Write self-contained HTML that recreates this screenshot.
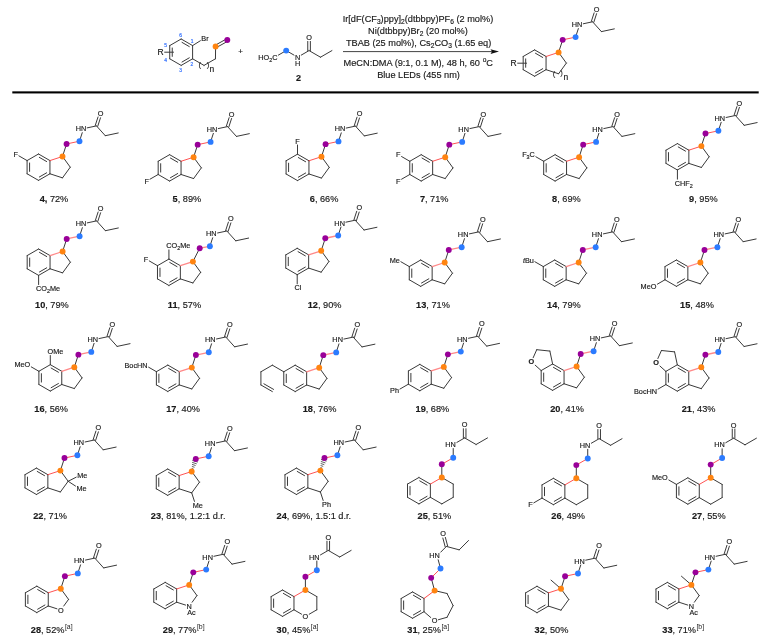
<!DOCTYPE html>
<html><head><meta charset="utf-8"><title>Scheme</title>
<style>
html,body{margin:0;padding:0;background:#fff;}
body{width:777px;height:637px;overflow:hidden;}
svg{display:block;will-change:transform;}
svg text{font-family:"Liberation Sans",sans-serif;fill:#1a1a1a;stroke:#1a1a1a;stroke-width:0.16px;white-space:pre;}
svg line{stroke-linecap:round;}
</style></head><body>
<svg width="777" height="637" viewBox="0 0 777 637">
<rect width="777" height="637" fill="#fff"/>
<line x1="49.95" y1="160.58" x2="49.95" y2="173.78" stroke="#3a3a3a" stroke-width="1"/>
<line x1="49.95" y1="173.78" x2="38.51" y2="180.38" stroke="#3a3a3a" stroke-width="1"/>
<line x1="46.62" y1="172.81" x2="39.34" y2="177.01" stroke="#3a3a3a" stroke-width="1"/>
<line x1="38.51" y1="180.38" x2="27.08" y2="173.78" stroke="#3a3a3a" stroke-width="1"/>
<line x1="27.08" y1="173.78" x2="27.08" y2="160.58" stroke="#3a3a3a" stroke-width="1"/>
<line x1="29.58" y1="171.38" x2="29.58" y2="162.98" stroke="#3a3a3a" stroke-width="1"/>
<line x1="27.08" y1="160.58" x2="38.51" y2="153.98" stroke="#3a3a3a" stroke-width="1"/>
<line x1="38.51" y1="153.98" x2="49.95" y2="160.58" stroke="#3a3a3a" stroke-width="1"/>
<line x1="39.34" y1="157.34" x2="46.62" y2="161.54" stroke="#3a3a3a" stroke-width="1"/>
<line x1="49.95" y1="160.58" x2="62.5" y2="156.5" stroke="#ff4040" stroke-width="0.9"/>
<line x1="62.5" y1="156.5" x2="70.26" y2="167.18" stroke="#3a3a3a" stroke-width="1"/>
<line x1="70.26" y1="167.18" x2="62.5" y2="177.86" stroke="#3a3a3a" stroke-width="1"/>
<line x1="62.5" y1="177.86" x2="49.95" y2="173.78" stroke="#3a3a3a" stroke-width="1"/>
<line x1="62.5" y1="156.5" x2="66.58" y2="143.95" stroke="#3a3a3a" stroke-width="1"/>
<line x1="66.58" y1="143.95" x2="79.49" y2="141.2" stroke="#ff4040" stroke-width="0.9"/>
<line x1="79.49" y1="141.2" x2="82.26" y2="132.68" stroke="#3a3a3a" stroke-width="1"/>
<line x1="87.21" y1="127.87" x2="96.48" y2="125.9" stroke="#3a3a3a" stroke-width="1"/>
<line x1="97.72" y1="126.3" x2="100.49" y2="117.78" stroke="#3a3a3a" stroke-width="1"/>
<line x1="95.24" y1="125.5" x2="98.02" y2="116.98" stroke="#3a3a3a" stroke-width="1"/>
<line x1="96.48" y1="125.9" x2="105.31" y2="135.71" stroke="#3a3a3a" stroke-width="1"/>
<line x1="105.31" y1="135.71" x2="118.23" y2="132.97" stroke="#3a3a3a" stroke-width="1"/>
<line x1="27.08" y1="160.58" x2="18.88" y2="155.84" stroke="#3a3a3a" stroke-width="1"/>
<circle cx="62.5" cy="156.5" r="2.95" fill="#ff8410"/>
<circle cx="66.58" cy="143.95" r="2.95" fill="#990099"/>
<circle cx="79.49" cy="141.2" r="2.95" fill="#2b7bff"/>
<text x="75.66" y="131.26" font-size="7.3">HN</text>
<text x="97.72" y="115.96" font-size="7.3">O</text>
<text x="13.42" y="156.59" font-size="7.3">F</text>
<text x="39.68" y="202.2" font-size="9.2"><tspan font-weight="bold">4,</tspan> 72%</text>
<line x1="181.05" y1="161.28" x2="181.05" y2="174.48" stroke="#3a3a3a" stroke-width="1"/>
<line x1="181.05" y1="174.48" x2="169.61" y2="181.08" stroke="#3a3a3a" stroke-width="1"/>
<line x1="177.72" y1="173.51" x2="170.44" y2="177.71" stroke="#3a3a3a" stroke-width="1"/>
<line x1="169.61" y1="181.08" x2="158.18" y2="174.48" stroke="#3a3a3a" stroke-width="1"/>
<line x1="158.18" y1="174.48" x2="158.18" y2="161.28" stroke="#3a3a3a" stroke-width="1"/>
<line x1="160.68" y1="172.08" x2="160.68" y2="163.68" stroke="#3a3a3a" stroke-width="1"/>
<line x1="158.18" y1="161.28" x2="169.61" y2="154.68" stroke="#3a3a3a" stroke-width="1"/>
<line x1="169.61" y1="154.68" x2="181.05" y2="161.28" stroke="#3a3a3a" stroke-width="1"/>
<line x1="170.44" y1="158.04" x2="177.72" y2="162.24" stroke="#3a3a3a" stroke-width="1"/>
<line x1="181.05" y1="161.28" x2="193.6" y2="157.2" stroke="#ff4040" stroke-width="0.9"/>
<line x1="193.6" y1="157.2" x2="201.36" y2="167.88" stroke="#3a3a3a" stroke-width="1"/>
<line x1="201.36" y1="167.88" x2="193.6" y2="178.56" stroke="#3a3a3a" stroke-width="1"/>
<line x1="193.6" y1="178.56" x2="181.05" y2="174.48" stroke="#3a3a3a" stroke-width="1"/>
<line x1="193.6" y1="157.2" x2="197.68" y2="144.65" stroke="#3a3a3a" stroke-width="1"/>
<line x1="197.68" y1="144.65" x2="210.59" y2="141.9" stroke="#ff4040" stroke-width="0.9"/>
<line x1="210.59" y1="141.9" x2="213.36" y2="133.38" stroke="#3a3a3a" stroke-width="1"/>
<line x1="218.31" y1="128.57" x2="227.58" y2="126.6" stroke="#3a3a3a" stroke-width="1"/>
<line x1="228.82" y1="127" x2="231.59" y2="118.48" stroke="#3a3a3a" stroke-width="1"/>
<line x1="226.34" y1="126.2" x2="229.12" y2="117.68" stroke="#3a3a3a" stroke-width="1"/>
<line x1="227.58" y1="126.6" x2="236.41" y2="136.41" stroke="#3a3a3a" stroke-width="1"/>
<line x1="236.41" y1="136.41" x2="249.33" y2="133.67" stroke="#3a3a3a" stroke-width="1"/>
<line x1="158.18" y1="174.48" x2="149.98" y2="179.21" stroke="#3a3a3a" stroke-width="1"/>
<circle cx="193.6" cy="157.2" r="2.95" fill="#ff8410"/>
<circle cx="197.68" cy="144.65" r="2.95" fill="#990099"/>
<circle cx="210.59" cy="141.9" r="2.95" fill="#2b7bff"/>
<text x="206.76" y="131.96" font-size="7.3">HN</text>
<text x="228.82" y="116.66" font-size="7.3">O</text>
<text x="144.52" y="183.69" font-size="7.3">F</text>
<text x="172.58" y="202.2" font-size="9.2"><tspan font-weight="bold">5</tspan>, 89%</text>
<line x1="308.95" y1="160.78" x2="308.95" y2="173.98" stroke="#3a3a3a" stroke-width="1"/>
<line x1="308.95" y1="173.98" x2="297.51" y2="180.58" stroke="#3a3a3a" stroke-width="1"/>
<line x1="305.62" y1="173.01" x2="298.34" y2="177.21" stroke="#3a3a3a" stroke-width="1"/>
<line x1="297.51" y1="180.58" x2="286.08" y2="173.98" stroke="#3a3a3a" stroke-width="1"/>
<line x1="286.08" y1="173.98" x2="286.08" y2="160.78" stroke="#3a3a3a" stroke-width="1"/>
<line x1="288.58" y1="171.58" x2="288.58" y2="163.18" stroke="#3a3a3a" stroke-width="1"/>
<line x1="286.08" y1="160.78" x2="297.51" y2="154.18" stroke="#3a3a3a" stroke-width="1"/>
<line x1="297.51" y1="154.18" x2="308.95" y2="160.78" stroke="#3a3a3a" stroke-width="1"/>
<line x1="298.34" y1="157.54" x2="305.62" y2="161.74" stroke="#3a3a3a" stroke-width="1"/>
<line x1="308.95" y1="160.78" x2="321.5" y2="156.7" stroke="#ff4040" stroke-width="0.9"/>
<line x1="321.5" y1="156.7" x2="329.26" y2="167.38" stroke="#3a3a3a" stroke-width="1"/>
<line x1="329.26" y1="167.38" x2="321.5" y2="178.06" stroke="#3a3a3a" stroke-width="1"/>
<line x1="321.5" y1="178.06" x2="308.95" y2="173.98" stroke="#3a3a3a" stroke-width="1"/>
<line x1="321.5" y1="156.7" x2="325.58" y2="144.15" stroke="#3a3a3a" stroke-width="1"/>
<line x1="325.58" y1="144.15" x2="338.49" y2="141.4" stroke="#ff4040" stroke-width="0.9"/>
<line x1="338.49" y1="141.4" x2="341.26" y2="132.88" stroke="#3a3a3a" stroke-width="1"/>
<line x1="346.21" y1="128.07" x2="355.48" y2="126.1" stroke="#3a3a3a" stroke-width="1"/>
<line x1="356.72" y1="126.5" x2="359.49" y2="117.98" stroke="#3a3a3a" stroke-width="1"/>
<line x1="354.24" y1="125.7" x2="357.02" y2="117.18" stroke="#3a3a3a" stroke-width="1"/>
<line x1="355.48" y1="126.1" x2="364.31" y2="135.91" stroke="#3a3a3a" stroke-width="1"/>
<line x1="364.31" y1="135.91" x2="377.23" y2="133.17" stroke="#3a3a3a" stroke-width="1"/>
<line x1="297.51" y1="154.18" x2="297.51" y2="145.01" stroke="#3a3a3a" stroke-width="1"/>
<circle cx="321.5" cy="156.7" r="2.95" fill="#ff8410"/>
<circle cx="325.58" cy="144.15" r="2.95" fill="#990099"/>
<circle cx="338.49" cy="141.4" r="2.95" fill="#2b7bff"/>
<text x="334.66" y="131.46" font-size="7.3">HN</text>
<text x="356.72" y="116.16" font-size="7.3">O</text>
<text x="295.28" y="143.59" font-size="7.3">F</text>
<text x="309.78" y="202.2" font-size="9.2"><tspan font-weight="bold">6</tspan>, 66%</text>
<line x1="432.65" y1="161.28" x2="432.65" y2="174.48" stroke="#3a3a3a" stroke-width="1"/>
<line x1="432.65" y1="174.48" x2="421.21" y2="181.08" stroke="#3a3a3a" stroke-width="1"/>
<line x1="429.32" y1="173.51" x2="422.04" y2="177.71" stroke="#3a3a3a" stroke-width="1"/>
<line x1="421.21" y1="181.08" x2="409.78" y2="174.48" stroke="#3a3a3a" stroke-width="1"/>
<line x1="409.78" y1="174.48" x2="409.78" y2="161.28" stroke="#3a3a3a" stroke-width="1"/>
<line x1="412.28" y1="172.08" x2="412.28" y2="163.68" stroke="#3a3a3a" stroke-width="1"/>
<line x1="409.78" y1="161.28" x2="421.21" y2="154.68" stroke="#3a3a3a" stroke-width="1"/>
<line x1="421.21" y1="154.68" x2="432.65" y2="161.28" stroke="#3a3a3a" stroke-width="1"/>
<line x1="422.04" y1="158.04" x2="429.32" y2="162.24" stroke="#3a3a3a" stroke-width="1"/>
<line x1="432.65" y1="161.28" x2="445.2" y2="157.2" stroke="#ff4040" stroke-width="0.9"/>
<line x1="445.2" y1="157.2" x2="452.96" y2="167.88" stroke="#3a3a3a" stroke-width="1"/>
<line x1="452.96" y1="167.88" x2="445.2" y2="178.56" stroke="#3a3a3a" stroke-width="1"/>
<line x1="445.2" y1="178.56" x2="432.65" y2="174.48" stroke="#3a3a3a" stroke-width="1"/>
<line x1="445.2" y1="157.2" x2="449.28" y2="144.65" stroke="#3a3a3a" stroke-width="1"/>
<line x1="449.28" y1="144.65" x2="462.19" y2="141.9" stroke="#ff4040" stroke-width="0.9"/>
<line x1="462.19" y1="141.9" x2="464.96" y2="133.38" stroke="#3a3a3a" stroke-width="1"/>
<line x1="469.91" y1="128.57" x2="479.18" y2="126.6" stroke="#3a3a3a" stroke-width="1"/>
<line x1="480.42" y1="127" x2="483.19" y2="118.48" stroke="#3a3a3a" stroke-width="1"/>
<line x1="477.94" y1="126.2" x2="480.72" y2="117.68" stroke="#3a3a3a" stroke-width="1"/>
<line x1="479.18" y1="126.6" x2="488.01" y2="136.41" stroke="#3a3a3a" stroke-width="1"/>
<line x1="488.01" y1="136.41" x2="500.93" y2="133.67" stroke="#3a3a3a" stroke-width="1"/>
<line x1="409.78" y1="161.28" x2="401.58" y2="156.54" stroke="#3a3a3a" stroke-width="1"/>
<line x1="409.78" y1="174.48" x2="401.58" y2="179.21" stroke="#3a3a3a" stroke-width="1"/>
<circle cx="445.2" cy="157.2" r="2.95" fill="#ff8410"/>
<circle cx="449.28" cy="144.65" r="2.95" fill="#990099"/>
<circle cx="462.19" cy="141.9" r="2.95" fill="#2b7bff"/>
<text x="458.36" y="131.96" font-size="7.3">HN</text>
<text x="480.42" y="116.66" font-size="7.3">O</text>
<text x="396.12" y="157.29" font-size="7.3">F</text>
<text x="396.12" y="183.69" font-size="7.3">F</text>
<text x="419.88" y="202.2" font-size="9.2"><tspan font-weight="bold">7</tspan>, 71%</text>
<line x1="566.55" y1="161.28" x2="566.55" y2="174.48" stroke="#3a3a3a" stroke-width="1"/>
<line x1="566.55" y1="174.48" x2="555.11" y2="181.08" stroke="#3a3a3a" stroke-width="1"/>
<line x1="563.22" y1="173.51" x2="555.94" y2="177.71" stroke="#3a3a3a" stroke-width="1"/>
<line x1="555.11" y1="181.08" x2="543.68" y2="174.48" stroke="#3a3a3a" stroke-width="1"/>
<line x1="543.68" y1="174.48" x2="543.68" y2="161.28" stroke="#3a3a3a" stroke-width="1"/>
<line x1="546.18" y1="172.08" x2="546.18" y2="163.68" stroke="#3a3a3a" stroke-width="1"/>
<line x1="543.68" y1="161.28" x2="555.11" y2="154.68" stroke="#3a3a3a" stroke-width="1"/>
<line x1="555.11" y1="154.68" x2="566.55" y2="161.28" stroke="#3a3a3a" stroke-width="1"/>
<line x1="555.94" y1="158.04" x2="563.22" y2="162.24" stroke="#3a3a3a" stroke-width="1"/>
<line x1="566.55" y1="161.28" x2="579.1" y2="157.2" stroke="#ff4040" stroke-width="0.9"/>
<line x1="579.1" y1="157.2" x2="586.86" y2="167.88" stroke="#3a3a3a" stroke-width="1"/>
<line x1="586.86" y1="167.88" x2="579.1" y2="178.56" stroke="#3a3a3a" stroke-width="1"/>
<line x1="579.1" y1="178.56" x2="566.55" y2="174.48" stroke="#3a3a3a" stroke-width="1"/>
<line x1="579.1" y1="157.2" x2="583.18" y2="144.65" stroke="#3a3a3a" stroke-width="1"/>
<line x1="583.18" y1="144.65" x2="596.09" y2="141.9" stroke="#ff4040" stroke-width="0.9"/>
<line x1="596.09" y1="141.9" x2="598.86" y2="133.38" stroke="#3a3a3a" stroke-width="1"/>
<line x1="603.81" y1="128.57" x2="613.08" y2="126.6" stroke="#3a3a3a" stroke-width="1"/>
<line x1="614.32" y1="127" x2="617.09" y2="118.48" stroke="#3a3a3a" stroke-width="1"/>
<line x1="611.84" y1="126.2" x2="614.62" y2="117.68" stroke="#3a3a3a" stroke-width="1"/>
<line x1="613.08" y1="126.6" x2="621.91" y2="136.41" stroke="#3a3a3a" stroke-width="1"/>
<line x1="621.91" y1="136.41" x2="634.83" y2="133.67" stroke="#3a3a3a" stroke-width="1"/>
<line x1="543.68" y1="161.28" x2="535.89" y2="156.78" stroke="#3a3a3a" stroke-width="1"/>
<circle cx="579.1" cy="157.2" r="2.95" fill="#ff8410"/>
<circle cx="583.18" cy="144.65" r="2.95" fill="#990099"/>
<circle cx="596.09" cy="141.9" r="2.95" fill="#2b7bff"/>
<text x="592.26" y="131.96" font-size="7.3">HN</text>
<text x="614.32" y="116.66" font-size="7.3">O</text>
<text x="522.15" y="157.29" font-size="7.3">F</text>
<text x="526.61" y="159.19" font-size="5.4">3</text>
<text x="529.62" y="157.29" font-size="7.3">C</text>
<text x="552.08" y="202.2" font-size="9.2"><tspan font-weight="bold">8</tspan>, 69%</text>
<line x1="688.85" y1="150.18" x2="688.85" y2="163.38" stroke="#3a3a3a" stroke-width="1"/>
<line x1="688.85" y1="163.38" x2="677.41" y2="169.98" stroke="#3a3a3a" stroke-width="1"/>
<line x1="685.52" y1="162.41" x2="678.24" y2="166.61" stroke="#3a3a3a" stroke-width="1"/>
<line x1="677.41" y1="169.98" x2="665.98" y2="163.38" stroke="#3a3a3a" stroke-width="1"/>
<line x1="665.98" y1="163.38" x2="665.98" y2="150.18" stroke="#3a3a3a" stroke-width="1"/>
<line x1="668.48" y1="160.98" x2="668.48" y2="152.58" stroke="#3a3a3a" stroke-width="1"/>
<line x1="665.98" y1="150.18" x2="677.41" y2="143.58" stroke="#3a3a3a" stroke-width="1"/>
<line x1="677.41" y1="143.58" x2="688.85" y2="150.18" stroke="#3a3a3a" stroke-width="1"/>
<line x1="678.24" y1="146.94" x2="685.52" y2="151.14" stroke="#3a3a3a" stroke-width="1"/>
<line x1="688.85" y1="150.18" x2="701.4" y2="146.1" stroke="#ff4040" stroke-width="0.9"/>
<line x1="701.4" y1="146.1" x2="709.16" y2="156.78" stroke="#3a3a3a" stroke-width="1"/>
<line x1="709.16" y1="156.78" x2="701.4" y2="167.46" stroke="#3a3a3a" stroke-width="1"/>
<line x1="701.4" y1="167.46" x2="688.85" y2="163.38" stroke="#3a3a3a" stroke-width="1"/>
<line x1="701.4" y1="146.1" x2="705.48" y2="133.55" stroke="#3a3a3a" stroke-width="1"/>
<line x1="705.48" y1="133.55" x2="718.39" y2="130.8" stroke="#ff4040" stroke-width="0.9"/>
<line x1="718.39" y1="130.8" x2="721.16" y2="122.28" stroke="#3a3a3a" stroke-width="1"/>
<line x1="726.11" y1="117.47" x2="735.38" y2="115.5" stroke="#3a3a3a" stroke-width="1"/>
<line x1="736.62" y1="115.9" x2="739.39" y2="107.38" stroke="#3a3a3a" stroke-width="1"/>
<line x1="734.14" y1="115.1" x2="736.92" y2="106.58" stroke="#3a3a3a" stroke-width="1"/>
<line x1="735.38" y1="115.5" x2="744.21" y2="125.31" stroke="#3a3a3a" stroke-width="1"/>
<line x1="744.21" y1="125.31" x2="757.13" y2="122.57" stroke="#3a3a3a" stroke-width="1"/>
<line x1="677.41" y1="169.98" x2="677.41" y2="179.15" stroke="#3a3a3a" stroke-width="1"/>
<circle cx="701.4" cy="146.1" r="2.95" fill="#ff8410"/>
<circle cx="705.48" cy="133.55" r="2.95" fill="#990099"/>
<circle cx="718.39" cy="130.8" r="2.95" fill="#2b7bff"/>
<text x="714.56" y="120.86" font-size="7.3">HN</text>
<text x="736.62" y="105.56" font-size="7.3">O</text>
<text x="674.78" y="185.79" font-size="7.3">CHF</text>
<text x="689.78" y="187.69" font-size="5.4">2</text>
<text x="689.08" y="202.2" font-size="9.2"><tspan font-weight="bold">9</tspan>, 95%</text>
<line x1="50.05" y1="255.58" x2="50.05" y2="268.78" stroke="#3a3a3a" stroke-width="1"/>
<line x1="50.05" y1="268.78" x2="38.61" y2="275.38" stroke="#3a3a3a" stroke-width="1"/>
<line x1="46.72" y1="267.81" x2="39.44" y2="272.01" stroke="#3a3a3a" stroke-width="1"/>
<line x1="38.61" y1="275.38" x2="27.18" y2="268.78" stroke="#3a3a3a" stroke-width="1"/>
<line x1="27.18" y1="268.78" x2="27.18" y2="255.58" stroke="#3a3a3a" stroke-width="1"/>
<line x1="29.68" y1="266.38" x2="29.68" y2="257.98" stroke="#3a3a3a" stroke-width="1"/>
<line x1="27.18" y1="255.58" x2="38.61" y2="248.98" stroke="#3a3a3a" stroke-width="1"/>
<line x1="38.61" y1="248.98" x2="50.05" y2="255.58" stroke="#3a3a3a" stroke-width="1"/>
<line x1="39.44" y1="252.34" x2="46.72" y2="256.54" stroke="#3a3a3a" stroke-width="1"/>
<line x1="50.05" y1="255.58" x2="62.6" y2="251.5" stroke="#ff8888" stroke-width="1.3"/>
<line x1="62.6" y1="251.5" x2="70.36" y2="262.18" stroke="#3a3a3a" stroke-width="1"/>
<line x1="70.36" y1="262.18" x2="62.6" y2="272.86" stroke="#3a3a3a" stroke-width="1"/>
<line x1="62.6" y1="272.86" x2="50.05" y2="268.78" stroke="#3a3a3a" stroke-width="1"/>
<line x1="62.6" y1="251.5" x2="66.68" y2="238.95" stroke="#3a3a3a" stroke-width="1"/>
<line x1="66.68" y1="238.95" x2="79.59" y2="236.2" stroke="#ff8888" stroke-width="1.3"/>
<line x1="79.59" y1="236.2" x2="82.36" y2="227.68" stroke="#3a3a3a" stroke-width="1"/>
<line x1="87.31" y1="222.87" x2="96.58" y2="220.9" stroke="#3a3a3a" stroke-width="1"/>
<line x1="97.82" y1="221.3" x2="100.59" y2="212.78" stroke="#3a3a3a" stroke-width="1"/>
<line x1="95.34" y1="220.5" x2="98.12" y2="211.98" stroke="#3a3a3a" stroke-width="1"/>
<line x1="96.58" y1="220.9" x2="105.41" y2="230.71" stroke="#3a3a3a" stroke-width="1"/>
<line x1="105.41" y1="230.71" x2="118.33" y2="227.97" stroke="#3a3a3a" stroke-width="1"/>
<line x1="38.61" y1="275.38" x2="38.61" y2="284.55" stroke="#3a3a3a" stroke-width="1"/>
<circle cx="62.6" cy="251.5" r="2.95" fill="#ff8410"/>
<circle cx="66.68" cy="238.95" r="2.95" fill="#990099"/>
<circle cx="79.59" cy="236.2" r="2.95" fill="#2b7bff"/>
<text x="75.76" y="226.26" font-size="7.3">HN</text>
<text x="97.82" y="210.96" font-size="7.3">O</text>
<text x="35.98" y="291.19" font-size="7.3">CO</text>
<text x="46.93" y="293.09" font-size="5.4">2</text>
<text x="49.93" y="291.19" font-size="7.3">Me</text>
<text x="35.02" y="308.1" font-size="9.2"><tspan font-weight="bold">10</tspan>, 79%</text>
<line x1="180.35" y1="265.68" x2="180.35" y2="278.88" stroke="#3a3a3a" stroke-width="1"/>
<line x1="180.35" y1="278.88" x2="168.91" y2="285.48" stroke="#3a3a3a" stroke-width="1"/>
<line x1="177.02" y1="277.91" x2="169.74" y2="282.11" stroke="#3a3a3a" stroke-width="1"/>
<line x1="168.91" y1="285.48" x2="157.48" y2="278.88" stroke="#3a3a3a" stroke-width="1"/>
<line x1="157.48" y1="278.88" x2="157.48" y2="265.68" stroke="#3a3a3a" stroke-width="1"/>
<line x1="159.98" y1="276.48" x2="159.98" y2="268.08" stroke="#3a3a3a" stroke-width="1"/>
<line x1="157.48" y1="265.68" x2="168.91" y2="259.08" stroke="#3a3a3a" stroke-width="1"/>
<line x1="168.91" y1="259.08" x2="180.35" y2="265.68" stroke="#3a3a3a" stroke-width="1"/>
<line x1="169.74" y1="262.44" x2="177.02" y2="266.64" stroke="#3a3a3a" stroke-width="1"/>
<line x1="180.35" y1="265.68" x2="192.9" y2="261.6" stroke="#ff8888" stroke-width="1.3"/>
<line x1="192.9" y1="261.6" x2="200.66" y2="272.28" stroke="#3a3a3a" stroke-width="1"/>
<line x1="200.66" y1="272.28" x2="192.9" y2="282.96" stroke="#3a3a3a" stroke-width="1"/>
<line x1="192.9" y1="282.96" x2="180.35" y2="278.88" stroke="#3a3a3a" stroke-width="1"/>
<line x1="192.9" y1="261.6" x2="199.7" y2="248.2" stroke="#3a3a3a" stroke-width="1"/>
<line x1="199.7" y1="248.2" x2="209.89" y2="246.3" stroke="#ff8888" stroke-width="1.3"/>
<line x1="209.89" y1="246.3" x2="212.66" y2="237.78" stroke="#3a3a3a" stroke-width="1"/>
<line x1="217.61" y1="232.97" x2="226.88" y2="231" stroke="#3a3a3a" stroke-width="1"/>
<line x1="228.12" y1="231.4" x2="230.89" y2="222.88" stroke="#3a3a3a" stroke-width="1"/>
<line x1="225.64" y1="230.6" x2="228.42" y2="222.08" stroke="#3a3a3a" stroke-width="1"/>
<line x1="226.88" y1="231" x2="235.71" y2="240.81" stroke="#3a3a3a" stroke-width="1"/>
<line x1="235.71" y1="240.81" x2="248.63" y2="238.07" stroke="#3a3a3a" stroke-width="1"/>
<line x1="168.91" y1="259.08" x2="168.91" y2="249.91" stroke="#3a3a3a" stroke-width="1"/>
<line x1="157.48" y1="265.68" x2="149.28" y2="260.94" stroke="#3a3a3a" stroke-width="1"/>
<circle cx="192.9" cy="261.6" r="2.95" fill="#ff8410"/>
<circle cx="199.7" cy="248.2" r="2.95" fill="#990099"/>
<circle cx="209.89" cy="246.3" r="2.95" fill="#2b7bff"/>
<text x="206.06" y="236.36" font-size="7.3">HN</text>
<text x="228.12" y="221.06" font-size="7.3">O</text>
<text x="166.28" y="248.49" font-size="7.3">CO</text>
<text x="177.23" y="250.39" font-size="5.4">2</text>
<text x="180.23" y="248.49" font-size="7.3">Me</text>
<text x="143.82" y="261.69" font-size="7.3">F</text>
<text x="167.87" y="308.1" font-size="9.2"><tspan font-weight="bold">11</tspan>, 57%</text>
<line x1="308.65" y1="254.88" x2="308.65" y2="268.08" stroke="#3a3a3a" stroke-width="1"/>
<line x1="308.65" y1="268.08" x2="297.21" y2="274.68" stroke="#3a3a3a" stroke-width="1"/>
<line x1="305.32" y1="267.11" x2="298.04" y2="271.31" stroke="#3a3a3a" stroke-width="1"/>
<line x1="297.21" y1="274.68" x2="285.78" y2="268.08" stroke="#3a3a3a" stroke-width="1"/>
<line x1="285.78" y1="268.08" x2="285.78" y2="254.88" stroke="#3a3a3a" stroke-width="1"/>
<line x1="288.28" y1="265.68" x2="288.28" y2="257.28" stroke="#3a3a3a" stroke-width="1"/>
<line x1="285.78" y1="254.88" x2="297.21" y2="248.28" stroke="#3a3a3a" stroke-width="1"/>
<line x1="297.21" y1="248.28" x2="308.65" y2="254.88" stroke="#3a3a3a" stroke-width="1"/>
<line x1="298.04" y1="251.64" x2="305.32" y2="255.84" stroke="#3a3a3a" stroke-width="1"/>
<line x1="308.65" y1="254.88" x2="321.2" y2="250.8" stroke="#ff8888" stroke-width="1.3"/>
<line x1="321.2" y1="250.8" x2="328.96" y2="261.48" stroke="#3a3a3a" stroke-width="1"/>
<line x1="328.96" y1="261.48" x2="321.2" y2="272.16" stroke="#3a3a3a" stroke-width="1"/>
<line x1="321.2" y1="272.16" x2="308.65" y2="268.08" stroke="#3a3a3a" stroke-width="1"/>
<line x1="321.2" y1="250.8" x2="325.28" y2="238.25" stroke="#3a3a3a" stroke-width="1"/>
<line x1="325.28" y1="238.25" x2="338.19" y2="235.5" stroke="#ff8888" stroke-width="1.3"/>
<line x1="338.19" y1="235.5" x2="340.96" y2="226.98" stroke="#3a3a3a" stroke-width="1"/>
<line x1="345.91" y1="222.17" x2="355.18" y2="220.2" stroke="#3a3a3a" stroke-width="1"/>
<line x1="356.42" y1="220.6" x2="359.19" y2="212.08" stroke="#3a3a3a" stroke-width="1"/>
<line x1="353.94" y1="219.8" x2="356.72" y2="211.28" stroke="#3a3a3a" stroke-width="1"/>
<line x1="355.18" y1="220.2" x2="364.01" y2="230.01" stroke="#3a3a3a" stroke-width="1"/>
<line x1="364.01" y1="230.01" x2="376.93" y2="227.27" stroke="#3a3a3a" stroke-width="1"/>
<line x1="297.21" y1="274.68" x2="297.21" y2="283.85" stroke="#3a3a3a" stroke-width="1"/>
<circle cx="321.2" cy="250.8" r="2.95" fill="#ff8410"/>
<circle cx="325.28" cy="238.25" r="2.95" fill="#990099"/>
<circle cx="338.19" cy="235.5" r="2.95" fill="#2b7bff"/>
<text x="334.36" y="225.56" font-size="7.3">HN</text>
<text x="356.42" y="210.26" font-size="7.3">O</text>
<text x="294.58" y="290.49" font-size="7.3">Cl</text>
<text x="307.72" y="308.1" font-size="9.2"><tspan font-weight="bold">12</tspan>, 90%</text>
<line x1="432.15" y1="266.58" x2="432.15" y2="279.78" stroke="#3a3a3a" stroke-width="1"/>
<line x1="432.15" y1="279.78" x2="420.71" y2="286.38" stroke="#3a3a3a" stroke-width="1"/>
<line x1="428.82" y1="278.81" x2="421.54" y2="283.01" stroke="#3a3a3a" stroke-width="1"/>
<line x1="420.71" y1="286.38" x2="409.28" y2="279.78" stroke="#3a3a3a" stroke-width="1"/>
<line x1="409.28" y1="279.78" x2="409.28" y2="266.58" stroke="#3a3a3a" stroke-width="1"/>
<line x1="411.78" y1="277.38" x2="411.78" y2="268.98" stroke="#3a3a3a" stroke-width="1"/>
<line x1="409.28" y1="266.58" x2="420.71" y2="259.98" stroke="#3a3a3a" stroke-width="1"/>
<line x1="420.71" y1="259.98" x2="432.15" y2="266.58" stroke="#3a3a3a" stroke-width="1"/>
<line x1="421.54" y1="263.34" x2="428.82" y2="267.54" stroke="#3a3a3a" stroke-width="1"/>
<line x1="432.15" y1="266.58" x2="444.7" y2="262.5" stroke="#ff8888" stroke-width="1.3"/>
<line x1="444.7" y1="262.5" x2="452.46" y2="273.18" stroke="#3a3a3a" stroke-width="1"/>
<line x1="452.46" y1="273.18" x2="444.7" y2="283.86" stroke="#3a3a3a" stroke-width="1"/>
<line x1="444.7" y1="283.86" x2="432.15" y2="279.78" stroke="#3a3a3a" stroke-width="1"/>
<line x1="444.7" y1="262.5" x2="448.78" y2="249.95" stroke="#3a3a3a" stroke-width="1"/>
<line x1="448.78" y1="249.95" x2="461.69" y2="247.2" stroke="#ff8888" stroke-width="1.3"/>
<line x1="461.69" y1="247.2" x2="464.46" y2="238.68" stroke="#3a3a3a" stroke-width="1"/>
<line x1="469.41" y1="233.87" x2="478.68" y2="231.9" stroke="#3a3a3a" stroke-width="1"/>
<line x1="479.92" y1="232.3" x2="482.69" y2="223.78" stroke="#3a3a3a" stroke-width="1"/>
<line x1="477.44" y1="231.5" x2="480.22" y2="222.98" stroke="#3a3a3a" stroke-width="1"/>
<line x1="478.68" y1="231.9" x2="487.51" y2="241.71" stroke="#3a3a3a" stroke-width="1"/>
<line x1="487.51" y1="241.71" x2="500.43" y2="238.97" stroke="#3a3a3a" stroke-width="1"/>
<line x1="409.28" y1="266.58" x2="400.88" y2="261.73" stroke="#3a3a3a" stroke-width="1"/>
<circle cx="444.7" cy="262.5" r="2.95" fill="#ff8410"/>
<circle cx="448.78" cy="249.95" r="2.95" fill="#990099"/>
<circle cx="461.69" cy="247.2" r="2.95" fill="#2b7bff"/>
<text x="457.86" y="237.26" font-size="7.3">HN</text>
<text x="479.92" y="221.96" font-size="7.3">O</text>
<text x="389.74" y="262.59" font-size="7.3">Me</text>
<text x="416.12" y="308.1" font-size="9.2"><tspan font-weight="bold">13</tspan>, 71%</text>
<line x1="566.15" y1="266.58" x2="566.15" y2="279.78" stroke="#3a3a3a" stroke-width="1"/>
<line x1="566.15" y1="279.78" x2="554.71" y2="286.38" stroke="#3a3a3a" stroke-width="1"/>
<line x1="562.82" y1="278.81" x2="555.54" y2="283.01" stroke="#3a3a3a" stroke-width="1"/>
<line x1="554.71" y1="286.38" x2="543.28" y2="279.78" stroke="#3a3a3a" stroke-width="1"/>
<line x1="543.28" y1="279.78" x2="543.28" y2="266.58" stroke="#3a3a3a" stroke-width="1"/>
<line x1="545.78" y1="277.38" x2="545.78" y2="268.98" stroke="#3a3a3a" stroke-width="1"/>
<line x1="543.28" y1="266.58" x2="554.71" y2="259.98" stroke="#3a3a3a" stroke-width="1"/>
<line x1="554.71" y1="259.98" x2="566.15" y2="266.58" stroke="#3a3a3a" stroke-width="1"/>
<line x1="555.54" y1="263.34" x2="562.82" y2="267.54" stroke="#3a3a3a" stroke-width="1"/>
<line x1="566.15" y1="266.58" x2="578.7" y2="262.5" stroke="#ff8888" stroke-width="1.3"/>
<line x1="578.7" y1="262.5" x2="586.46" y2="273.18" stroke="#3a3a3a" stroke-width="1"/>
<line x1="586.46" y1="273.18" x2="578.7" y2="283.86" stroke="#3a3a3a" stroke-width="1"/>
<line x1="578.7" y1="283.86" x2="566.15" y2="279.78" stroke="#3a3a3a" stroke-width="1"/>
<line x1="578.7" y1="262.5" x2="582.78" y2="249.95" stroke="#3a3a3a" stroke-width="1"/>
<line x1="582.78" y1="249.95" x2="595.69" y2="247.2" stroke="#ff8888" stroke-width="1.3"/>
<line x1="595.69" y1="247.2" x2="598.46" y2="238.68" stroke="#3a3a3a" stroke-width="1"/>
<line x1="603.41" y1="233.87" x2="612.68" y2="231.9" stroke="#3a3a3a" stroke-width="1"/>
<line x1="613.92" y1="232.3" x2="616.69" y2="223.78" stroke="#3a3a3a" stroke-width="1"/>
<line x1="611.44" y1="231.5" x2="614.22" y2="222.98" stroke="#3a3a3a" stroke-width="1"/>
<line x1="612.68" y1="231.9" x2="621.51" y2="241.71" stroke="#3a3a3a" stroke-width="1"/>
<line x1="621.51" y1="241.71" x2="634.43" y2="238.97" stroke="#3a3a3a" stroke-width="1"/>
<line x1="543.28" y1="266.58" x2="534.88" y2="261.73" stroke="#3a3a3a" stroke-width="1"/>
<circle cx="578.7" cy="262.5" r="2.95" fill="#ff8410"/>
<circle cx="582.78" cy="249.95" r="2.95" fill="#990099"/>
<circle cx="595.69" cy="247.2" r="2.95" fill="#2b7bff"/>
<text x="591.86" y="237.26" font-size="7.3">HN</text>
<text x="613.92" y="221.96" font-size="7.3">O</text>
<text x="522.92" y="262.59" font-size="7.3" font-style="italic">t</text>
<text x="524.95" y="262.59" font-size="7.3">Bu</text>
<text x="547.02" y="308.1" font-size="9.2"><tspan font-weight="bold">14</tspan>, 79%</text>
<line x1="687.85" y1="266.58" x2="687.85" y2="279.78" stroke="#3a3a3a" stroke-width="1"/>
<line x1="687.85" y1="279.78" x2="676.41" y2="286.38" stroke="#3a3a3a" stroke-width="1"/>
<line x1="684.52" y1="278.81" x2="677.24" y2="283.01" stroke="#3a3a3a" stroke-width="1"/>
<line x1="676.41" y1="286.38" x2="664.98" y2="279.78" stroke="#3a3a3a" stroke-width="1"/>
<line x1="664.98" y1="279.78" x2="664.98" y2="266.58" stroke="#3a3a3a" stroke-width="1"/>
<line x1="667.48" y1="277.38" x2="667.48" y2="268.98" stroke="#3a3a3a" stroke-width="1"/>
<line x1="664.98" y1="266.58" x2="676.41" y2="259.98" stroke="#3a3a3a" stroke-width="1"/>
<line x1="676.41" y1="259.98" x2="687.85" y2="266.58" stroke="#3a3a3a" stroke-width="1"/>
<line x1="677.24" y1="263.34" x2="684.52" y2="267.54" stroke="#3a3a3a" stroke-width="1"/>
<line x1="687.85" y1="266.58" x2="700.4" y2="262.5" stroke="#ff8888" stroke-width="1.3"/>
<line x1="700.4" y1="262.5" x2="708.16" y2="273.18" stroke="#3a3a3a" stroke-width="1"/>
<line x1="708.16" y1="273.18" x2="700.4" y2="283.86" stroke="#3a3a3a" stroke-width="1"/>
<line x1="700.4" y1="283.86" x2="687.85" y2="279.78" stroke="#3a3a3a" stroke-width="1"/>
<line x1="700.4" y1="262.5" x2="704.48" y2="249.95" stroke="#3a3a3a" stroke-width="1"/>
<line x1="704.48" y1="249.95" x2="717.39" y2="247.2" stroke="#ff8888" stroke-width="1.3"/>
<line x1="717.39" y1="247.2" x2="720.16" y2="238.68" stroke="#3a3a3a" stroke-width="1"/>
<line x1="725.11" y1="233.87" x2="734.38" y2="231.9" stroke="#3a3a3a" stroke-width="1"/>
<line x1="735.62" y1="232.3" x2="738.39" y2="223.78" stroke="#3a3a3a" stroke-width="1"/>
<line x1="733.14" y1="231.5" x2="735.92" y2="222.98" stroke="#3a3a3a" stroke-width="1"/>
<line x1="734.38" y1="231.9" x2="743.21" y2="241.71" stroke="#3a3a3a" stroke-width="1"/>
<line x1="743.21" y1="241.71" x2="756.13" y2="238.97" stroke="#3a3a3a" stroke-width="1"/>
<line x1="664.98" y1="279.78" x2="657.39" y2="284.16" stroke="#3a3a3a" stroke-width="1"/>
<circle cx="700.4" cy="262.5" r="2.95" fill="#ff8410"/>
<circle cx="704.48" cy="249.95" r="2.95" fill="#990099"/>
<circle cx="717.39" cy="247.2" r="2.95" fill="#2b7bff"/>
<text x="713.56" y="237.26" font-size="7.3">HN</text>
<text x="735.62" y="221.96" font-size="7.3">O</text>
<text x="640.57" y="288.99" font-size="7.3">MeO</text>
<text x="680.12" y="308.1" font-size="9.2"><tspan font-weight="bold">15</tspan>, 48%</text>
<line x1="61.75" y1="371.28" x2="61.75" y2="384.48" stroke="#3a3a3a" stroke-width="1"/>
<line x1="61.75" y1="384.48" x2="50.31" y2="391.08" stroke="#3a3a3a" stroke-width="1"/>
<line x1="58.42" y1="383.51" x2="51.14" y2="387.71" stroke="#3a3a3a" stroke-width="1"/>
<line x1="50.31" y1="391.08" x2="38.88" y2="384.48" stroke="#3a3a3a" stroke-width="1"/>
<line x1="38.88" y1="384.48" x2="38.88" y2="371.28" stroke="#3a3a3a" stroke-width="1"/>
<line x1="41.38" y1="382.08" x2="41.38" y2="373.68" stroke="#3a3a3a" stroke-width="1"/>
<line x1="38.88" y1="371.28" x2="50.31" y2="364.68" stroke="#3a3a3a" stroke-width="1"/>
<line x1="50.31" y1="364.68" x2="61.75" y2="371.28" stroke="#3a3a3a" stroke-width="1"/>
<line x1="51.14" y1="368.04" x2="58.42" y2="372.24" stroke="#3a3a3a" stroke-width="1"/>
<line x1="61.75" y1="371.28" x2="74.3" y2="367.2" stroke="#ff8888" stroke-width="1.3"/>
<line x1="74.3" y1="367.2" x2="82.06" y2="377.88" stroke="#3a3a3a" stroke-width="1"/>
<line x1="82.06" y1="377.88" x2="74.3" y2="388.56" stroke="#3a3a3a" stroke-width="1"/>
<line x1="74.3" y1="388.56" x2="61.75" y2="384.48" stroke="#3a3a3a" stroke-width="1"/>
<line x1="74.3" y1="367.2" x2="78.38" y2="354.65" stroke="#3a3a3a" stroke-width="1"/>
<line x1="78.38" y1="354.65" x2="91.29" y2="351.9" stroke="#ff8888" stroke-width="1.3"/>
<line x1="91.29" y1="351.9" x2="94.06" y2="343.38" stroke="#3a3a3a" stroke-width="1"/>
<line x1="99.01" y1="338.57" x2="108.28" y2="336.6" stroke="#3a3a3a" stroke-width="1"/>
<line x1="109.52" y1="337" x2="112.29" y2="328.48" stroke="#3a3a3a" stroke-width="1"/>
<line x1="107.04" y1="336.2" x2="109.82" y2="327.68" stroke="#3a3a3a" stroke-width="1"/>
<line x1="108.28" y1="336.6" x2="117.11" y2="346.41" stroke="#3a3a3a" stroke-width="1"/>
<line x1="117.11" y1="346.41" x2="130.03" y2="343.67" stroke="#3a3a3a" stroke-width="1"/>
<line x1="50.31" y1="364.68" x2="50.31" y2="355.51" stroke="#3a3a3a" stroke-width="1"/>
<line x1="38.88" y1="371.28" x2="31.29" y2="366.9" stroke="#3a3a3a" stroke-width="1"/>
<circle cx="74.3" cy="367.2" r="2.95" fill="#ff8410"/>
<circle cx="78.38" cy="354.65" r="2.95" fill="#990099"/>
<circle cx="91.29" cy="351.9" r="2.95" fill="#2b7bff"/>
<text x="87.46" y="341.96" font-size="7.3">HN</text>
<text x="109.52" y="326.66" font-size="7.3">O</text>
<text x="47.48" y="354.09" font-size="7.3">OMe</text>
<text x="14.47" y="367.29" font-size="7.3">MeO</text>
<text x="34.32" y="412.4" font-size="9.2"><tspan font-weight="bold">16</tspan>, 56%</text>
<line x1="179.25" y1="371.68" x2="179.25" y2="384.88" stroke="#3a3a3a" stroke-width="1"/>
<line x1="179.25" y1="384.88" x2="167.81" y2="391.48" stroke="#3a3a3a" stroke-width="1"/>
<line x1="175.92" y1="383.91" x2="168.64" y2="388.11" stroke="#3a3a3a" stroke-width="1"/>
<line x1="167.81" y1="391.48" x2="156.38" y2="384.88" stroke="#3a3a3a" stroke-width="1"/>
<line x1="156.38" y1="384.88" x2="156.38" y2="371.68" stroke="#3a3a3a" stroke-width="1"/>
<line x1="158.88" y1="382.48" x2="158.88" y2="374.08" stroke="#3a3a3a" stroke-width="1"/>
<line x1="156.38" y1="371.68" x2="167.81" y2="365.08" stroke="#3a3a3a" stroke-width="1"/>
<line x1="167.81" y1="365.08" x2="179.25" y2="371.68" stroke="#3a3a3a" stroke-width="1"/>
<line x1="168.64" y1="368.44" x2="175.92" y2="372.64" stroke="#3a3a3a" stroke-width="1"/>
<line x1="179.25" y1="371.68" x2="191.8" y2="367.6" stroke="#ff8888" stroke-width="1.3"/>
<line x1="191.8" y1="367.6" x2="199.56" y2="378.28" stroke="#3a3a3a" stroke-width="1"/>
<line x1="199.56" y1="378.28" x2="191.8" y2="388.96" stroke="#3a3a3a" stroke-width="1"/>
<line x1="191.8" y1="388.96" x2="179.25" y2="384.88" stroke="#3a3a3a" stroke-width="1"/>
<line x1="191.8" y1="367.6" x2="195.88" y2="355.05" stroke="#3a3a3a" stroke-width="1"/>
<line x1="195.88" y1="355.05" x2="208.79" y2="352.3" stroke="#ff8888" stroke-width="1.3"/>
<line x1="208.79" y1="352.3" x2="211.56" y2="343.78" stroke="#3a3a3a" stroke-width="1"/>
<line x1="216.51" y1="338.97" x2="225.78" y2="337" stroke="#3a3a3a" stroke-width="1"/>
<line x1="227.02" y1="337.4" x2="229.79" y2="328.88" stroke="#3a3a3a" stroke-width="1"/>
<line x1="224.54" y1="336.6" x2="227.32" y2="328.08" stroke="#3a3a3a" stroke-width="1"/>
<line x1="225.78" y1="337" x2="234.61" y2="346.81" stroke="#3a3a3a" stroke-width="1"/>
<line x1="234.61" y1="346.81" x2="247.53" y2="344.07" stroke="#3a3a3a" stroke-width="1"/>
<line x1="156.38" y1="371.68" x2="148.59" y2="367.18" stroke="#3a3a3a" stroke-width="1"/>
<circle cx="191.8" cy="367.6" r="2.95" fill="#ff8410"/>
<circle cx="195.88" cy="355.05" r="2.95" fill="#990099"/>
<circle cx="208.79" cy="352.3" r="2.95" fill="#2b7bff"/>
<text x="204.96" y="342.36" font-size="7.3">HN</text>
<text x="227.02" y="327.06" font-size="7.3">O</text>
<text x="124.46" y="367.69" font-size="7.3">BocHN</text>
<text x="166.22" y="412.4" font-size="9.2"><tspan font-weight="bold">17</tspan>, 40%</text>
<line x1="306.65" y1="371.78" x2="306.65" y2="384.98" stroke="#3a3a3a" stroke-width="1"/>
<line x1="306.65" y1="384.98" x2="295.21" y2="391.58" stroke="#3a3a3a" stroke-width="1"/>
<line x1="303.32" y1="384.01" x2="296.04" y2="388.21" stroke="#3a3a3a" stroke-width="1"/>
<line x1="295.21" y1="391.58" x2="283.78" y2="384.98" stroke="#3a3a3a" stroke-width="1"/>
<line x1="283.78" y1="384.98" x2="283.78" y2="371.78" stroke="#3a3a3a" stroke-width="1"/>
<line x1="286.28" y1="382.58" x2="286.28" y2="374.18" stroke="#3a3a3a" stroke-width="1"/>
<line x1="283.78" y1="371.78" x2="295.21" y2="365.18" stroke="#3a3a3a" stroke-width="1"/>
<line x1="295.21" y1="365.18" x2="306.65" y2="371.78" stroke="#3a3a3a" stroke-width="1"/>
<line x1="296.04" y1="368.54" x2="303.32" y2="372.74" stroke="#3a3a3a" stroke-width="1"/>
<line x1="306.65" y1="371.78" x2="319.2" y2="367.7" stroke="#ff8888" stroke-width="1.3"/>
<line x1="319.2" y1="367.7" x2="326.96" y2="378.38" stroke="#3a3a3a" stroke-width="1"/>
<line x1="326.96" y1="378.38" x2="319.2" y2="389.06" stroke="#3a3a3a" stroke-width="1"/>
<line x1="319.2" y1="389.06" x2="306.65" y2="384.98" stroke="#3a3a3a" stroke-width="1"/>
<line x1="319.2" y1="367.7" x2="323.28" y2="355.15" stroke="#3a3a3a" stroke-width="1"/>
<line x1="323.28" y1="355.15" x2="336.19" y2="352.4" stroke="#ff8888" stroke-width="1.3"/>
<line x1="336.19" y1="352.4" x2="338.96" y2="343.88" stroke="#3a3a3a" stroke-width="1"/>
<line x1="343.91" y1="339.07" x2="353.18" y2="337.1" stroke="#3a3a3a" stroke-width="1"/>
<line x1="354.42" y1="337.5" x2="357.19" y2="328.98" stroke="#3a3a3a" stroke-width="1"/>
<line x1="351.94" y1="336.7" x2="354.72" y2="328.18" stroke="#3a3a3a" stroke-width="1"/>
<line x1="353.18" y1="337.1" x2="362.01" y2="346.91" stroke="#3a3a3a" stroke-width="1"/>
<line x1="362.01" y1="346.91" x2="374.93" y2="344.17" stroke="#3a3a3a" stroke-width="1"/>
<line x1="283.78" y1="371.78" x2="272.35" y2="365.18" stroke="#3a3a3a" stroke-width="1"/>
<line x1="272.35" y1="365.18" x2="260.92" y2="371.78" stroke="#3a3a3a" stroke-width="1"/>
<line x1="260.92" y1="371.78" x2="260.92" y2="384.98" stroke="#3a3a3a" stroke-width="1"/>
<line x1="260.92" y1="384.98" x2="272.35" y2="391.58" stroke="#3a3a3a" stroke-width="1"/>
<line x1="263.9" y1="383.81" x2="273.6" y2="389.41" stroke="#3a3a3a" stroke-width="1"/>
<circle cx="319.2" cy="367.7" r="2.95" fill="#ff8410"/>
<circle cx="323.28" cy="355.15" r="2.95" fill="#990099"/>
<circle cx="336.19" cy="352.4" r="2.95" fill="#2b7bff"/>
<text x="332.36" y="342.46" font-size="7.3">HN</text>
<text x="354.42" y="327.16" font-size="7.3">O</text>
<text x="302.72" y="412.4" font-size="9.2"><tspan font-weight="bold">18</tspan>, 76%</text>
<line x1="431.25" y1="370.98" x2="431.25" y2="384.18" stroke="#3a3a3a" stroke-width="1"/>
<line x1="431.25" y1="384.18" x2="419.81" y2="390.78" stroke="#3a3a3a" stroke-width="1"/>
<line x1="427.92" y1="383.21" x2="420.64" y2="387.41" stroke="#3a3a3a" stroke-width="1"/>
<line x1="419.81" y1="390.78" x2="408.38" y2="384.18" stroke="#3a3a3a" stroke-width="1"/>
<line x1="408.38" y1="384.18" x2="408.38" y2="370.98" stroke="#3a3a3a" stroke-width="1"/>
<line x1="410.88" y1="381.78" x2="410.88" y2="373.38" stroke="#3a3a3a" stroke-width="1"/>
<line x1="408.38" y1="370.98" x2="419.81" y2="364.38" stroke="#3a3a3a" stroke-width="1"/>
<line x1="419.81" y1="364.38" x2="431.25" y2="370.98" stroke="#3a3a3a" stroke-width="1"/>
<line x1="420.64" y1="367.74" x2="427.92" y2="371.94" stroke="#3a3a3a" stroke-width="1"/>
<line x1="431.25" y1="370.98" x2="443.8" y2="366.9" stroke="#ff8888" stroke-width="1.3"/>
<line x1="443.8" y1="366.9" x2="451.56" y2="377.58" stroke="#3a3a3a" stroke-width="1"/>
<line x1="451.56" y1="377.58" x2="443.8" y2="388.26" stroke="#3a3a3a" stroke-width="1"/>
<line x1="443.8" y1="388.26" x2="431.25" y2="384.18" stroke="#3a3a3a" stroke-width="1"/>
<line x1="443.8" y1="366.9" x2="447.88" y2="354.35" stroke="#3a3a3a" stroke-width="1"/>
<line x1="447.88" y1="354.35" x2="460.79" y2="351.6" stroke="#ff8888" stroke-width="1.3"/>
<line x1="460.79" y1="351.6" x2="463.56" y2="343.08" stroke="#3a3a3a" stroke-width="1"/>
<line x1="468.51" y1="338.27" x2="477.78" y2="336.3" stroke="#3a3a3a" stroke-width="1"/>
<line x1="479.02" y1="336.7" x2="481.79" y2="328.18" stroke="#3a3a3a" stroke-width="1"/>
<line x1="476.54" y1="335.9" x2="479.32" y2="327.38" stroke="#3a3a3a" stroke-width="1"/>
<line x1="477.78" y1="336.3" x2="486.61" y2="346.11" stroke="#3a3a3a" stroke-width="1"/>
<line x1="486.61" y1="346.11" x2="499.53" y2="343.37" stroke="#3a3a3a" stroke-width="1"/>
<line x1="408.38" y1="384.18" x2="399.98" y2="389.03" stroke="#3a3a3a" stroke-width="1"/>
<circle cx="443.8" cy="366.9" r="2.95" fill="#ff8410"/>
<circle cx="447.88" cy="354.35" r="2.95" fill="#990099"/>
<circle cx="460.79" cy="351.6" r="2.95" fill="#2b7bff"/>
<text x="456.96" y="341.66" font-size="7.3">HN</text>
<text x="479.02" y="326.36" font-size="7.3">O</text>
<text x="390.05" y="393.39" font-size="7.3">Ph</text>
<text x="415.52" y="412.4" font-size="9.2"><tspan font-weight="bold">19</tspan>, 68%</text>
<line x1="564.05" y1="370.58" x2="564.05" y2="383.78" stroke="#3a3a3a" stroke-width="1"/>
<line x1="564.05" y1="383.78" x2="552.61" y2="390.38" stroke="#3a3a3a" stroke-width="1"/>
<line x1="560.72" y1="382.81" x2="553.44" y2="387.01" stroke="#3a3a3a" stroke-width="1"/>
<line x1="552.61" y1="390.38" x2="541.18" y2="383.78" stroke="#3a3a3a" stroke-width="1"/>
<line x1="541.18" y1="383.78" x2="541.18" y2="370.58" stroke="#3a3a3a" stroke-width="1"/>
<line x1="543.68" y1="381.38" x2="543.68" y2="372.98" stroke="#3a3a3a" stroke-width="1"/>
<line x1="541.18" y1="370.58" x2="552.61" y2="363.98" stroke="#3a3a3a" stroke-width="1"/>
<line x1="552.61" y1="363.98" x2="564.05" y2="370.58" stroke="#3a3a3a" stroke-width="1"/>
<line x1="553.44" y1="367.34" x2="560.72" y2="371.54" stroke="#3a3a3a" stroke-width="1"/>
<line x1="564.05" y1="370.58" x2="576.6" y2="366.5" stroke="#ff8888" stroke-width="1.3"/>
<line x1="576.6" y1="366.5" x2="584.36" y2="377.18" stroke="#3a3a3a" stroke-width="1"/>
<line x1="584.36" y1="377.18" x2="576.6" y2="387.86" stroke="#3a3a3a" stroke-width="1"/>
<line x1="576.6" y1="387.86" x2="564.05" y2="383.78" stroke="#3a3a3a" stroke-width="1"/>
<line x1="576.6" y1="366.5" x2="580.68" y2="353.95" stroke="#3a3a3a" stroke-width="1"/>
<line x1="580.68" y1="353.95" x2="593.59" y2="351.2" stroke="#ff8888" stroke-width="1.3"/>
<line x1="593.59" y1="351.2" x2="596.36" y2="342.68" stroke="#3a3a3a" stroke-width="1"/>
<line x1="601.31" y1="337.87" x2="610.58" y2="335.9" stroke="#3a3a3a" stroke-width="1"/>
<line x1="611.82" y1="336.3" x2="614.59" y2="327.78" stroke="#3a3a3a" stroke-width="1"/>
<line x1="609.34" y1="335.5" x2="612.12" y2="326.98" stroke="#3a3a3a" stroke-width="1"/>
<line x1="610.58" y1="335.9" x2="619.41" y2="345.71" stroke="#3a3a3a" stroke-width="1"/>
<line x1="619.41" y1="345.71" x2="632.33" y2="342.97" stroke="#3a3a3a" stroke-width="1"/>
<line x1="541.18" y1="370.58" x2="535.21" y2="365.2" stroke="#3a3a3a" stroke-width="1"/>
<line x1="533.17" y1="357.72" x2="536.74" y2="349.69" stroke="#3a3a3a" stroke-width="1"/>
<line x1="536.74" y1="349.69" x2="549.87" y2="351.07" stroke="#3a3a3a" stroke-width="1"/>
<line x1="549.87" y1="351.07" x2="552.61" y2="363.98" stroke="#3a3a3a" stroke-width="1"/>
<circle cx="576.6" cy="366.5" r="2.95" fill="#ff8410"/>
<circle cx="580.68" cy="353.95" r="2.95" fill="#990099"/>
<circle cx="593.59" cy="351.2" r="2.95" fill="#2b7bff"/>
<text x="589.76" y="341.26" font-size="7.3">HN</text>
<text x="611.82" y="325.96" font-size="7.3">O</text>
<text x="528.53" y="364.36" font-size="7.3" font-weight="bold">O</text>
<text x="550.22" y="412.4" font-size="9.2"><tspan font-weight="bold">20</tspan>, 41%</text>
<line x1="688.75" y1="371.38" x2="688.75" y2="384.58" stroke="#3a3a3a" stroke-width="1"/>
<line x1="688.75" y1="384.58" x2="677.31" y2="391.18" stroke="#3a3a3a" stroke-width="1"/>
<line x1="685.42" y1="383.61" x2="678.14" y2="387.81" stroke="#3a3a3a" stroke-width="1"/>
<line x1="677.31" y1="391.18" x2="665.88" y2="384.58" stroke="#3a3a3a" stroke-width="1"/>
<line x1="665.88" y1="384.58" x2="665.88" y2="371.38" stroke="#3a3a3a" stroke-width="1"/>
<line x1="668.38" y1="382.18" x2="668.38" y2="373.78" stroke="#3a3a3a" stroke-width="1"/>
<line x1="665.88" y1="371.38" x2="677.31" y2="364.78" stroke="#3a3a3a" stroke-width="1"/>
<line x1="677.31" y1="364.78" x2="688.75" y2="371.38" stroke="#3a3a3a" stroke-width="1"/>
<line x1="678.14" y1="368.14" x2="685.42" y2="372.34" stroke="#3a3a3a" stroke-width="1"/>
<line x1="688.75" y1="371.38" x2="701.3" y2="367.3" stroke="#ff8888" stroke-width="1.3"/>
<line x1="701.3" y1="367.3" x2="709.06" y2="377.98" stroke="#3a3a3a" stroke-width="1"/>
<line x1="709.06" y1="377.98" x2="701.3" y2="388.66" stroke="#3a3a3a" stroke-width="1"/>
<line x1="701.3" y1="388.66" x2="688.75" y2="384.58" stroke="#3a3a3a" stroke-width="1"/>
<line x1="701.3" y1="367.3" x2="705.38" y2="354.75" stroke="#3a3a3a" stroke-width="1"/>
<line x1="705.38" y1="354.75" x2="718.29" y2="352" stroke="#ff8888" stroke-width="1.3"/>
<line x1="718.29" y1="352" x2="721.06" y2="343.48" stroke="#3a3a3a" stroke-width="1"/>
<line x1="726.01" y1="338.67" x2="735.28" y2="336.7" stroke="#3a3a3a" stroke-width="1"/>
<line x1="736.52" y1="337.1" x2="739.29" y2="328.58" stroke="#3a3a3a" stroke-width="1"/>
<line x1="734.04" y1="336.3" x2="736.82" y2="327.78" stroke="#3a3a3a" stroke-width="1"/>
<line x1="735.28" y1="336.7" x2="744.11" y2="346.51" stroke="#3a3a3a" stroke-width="1"/>
<line x1="744.11" y1="346.51" x2="757.03" y2="343.77" stroke="#3a3a3a" stroke-width="1"/>
<line x1="665.88" y1="371.38" x2="659.91" y2="366" stroke="#3a3a3a" stroke-width="1"/>
<line x1="657.87" y1="358.52" x2="661.44" y2="350.49" stroke="#3a3a3a" stroke-width="1"/>
<line x1="661.44" y1="350.49" x2="674.57" y2="351.87" stroke="#3a3a3a" stroke-width="1"/>
<line x1="674.57" y1="351.87" x2="677.31" y2="364.78" stroke="#3a3a3a" stroke-width="1"/>
<line x1="665.88" y1="384.58" x2="658.09" y2="389.08" stroke="#3a3a3a" stroke-width="1"/>
<circle cx="701.3" cy="367.3" r="2.95" fill="#ff8410"/>
<circle cx="705.38" cy="354.75" r="2.95" fill="#990099"/>
<circle cx="718.29" cy="352" r="2.95" fill="#2b7bff"/>
<text x="714.46" y="342.06" font-size="7.3">HN</text>
<text x="736.52" y="326.76" font-size="7.3">O</text>
<text x="653.23" y="365.16" font-size="7.3" font-weight="bold">O</text>
<text x="633.96" y="393.79" font-size="7.3">BocHN</text>
<text x="681.72" y="412.4" font-size="9.2"><tspan font-weight="bold">21</tspan>, 43%</text>
<line x1="47.85" y1="474.68" x2="47.85" y2="487.88" stroke="#3a3a3a" stroke-width="1"/>
<line x1="47.85" y1="487.88" x2="36.41" y2="494.48" stroke="#3a3a3a" stroke-width="1"/>
<line x1="44.52" y1="486.91" x2="37.24" y2="491.11" stroke="#3a3a3a" stroke-width="1"/>
<line x1="36.41" y1="494.48" x2="24.98" y2="487.88" stroke="#3a3a3a" stroke-width="1"/>
<line x1="24.98" y1="487.88" x2="24.98" y2="474.68" stroke="#3a3a3a" stroke-width="1"/>
<line x1="27.48" y1="485.48" x2="27.48" y2="477.08" stroke="#3a3a3a" stroke-width="1"/>
<line x1="24.98" y1="474.68" x2="36.41" y2="468.08" stroke="#3a3a3a" stroke-width="1"/>
<line x1="36.41" y1="468.08" x2="47.85" y2="474.68" stroke="#3a3a3a" stroke-width="1"/>
<line x1="37.24" y1="471.44" x2="44.52" y2="475.64" stroke="#3a3a3a" stroke-width="1"/>
<line x1="47.85" y1="474.68" x2="60.4" y2="470.6" stroke="#ff4040" stroke-width="0.9"/>
<line x1="60.4" y1="470.6" x2="68.16" y2="481.28" stroke="#3a3a3a" stroke-width="1"/>
<line x1="68.16" y1="481.28" x2="60.4" y2="491.96" stroke="#3a3a3a" stroke-width="1"/>
<line x1="60.4" y1="491.96" x2="47.85" y2="487.88" stroke="#3a3a3a" stroke-width="1"/>
<line x1="60.4" y1="470.6" x2="64.48" y2="458.05" stroke="#3a3a3a" stroke-width="1"/>
<line x1="64.48" y1="458.05" x2="77.39" y2="455.3" stroke="#ff4040" stroke-width="0.9"/>
<line x1="77.39" y1="455.3" x2="80.16" y2="446.78" stroke="#3a3a3a" stroke-width="1"/>
<line x1="85.11" y1="441.97" x2="94.38" y2="440" stroke="#3a3a3a" stroke-width="1"/>
<line x1="95.62" y1="440.4" x2="98.39" y2="431.88" stroke="#3a3a3a" stroke-width="1"/>
<line x1="93.14" y1="439.6" x2="95.92" y2="431.08" stroke="#3a3a3a" stroke-width="1"/>
<line x1="94.38" y1="440" x2="103.21" y2="449.81" stroke="#3a3a3a" stroke-width="1"/>
<line x1="103.21" y1="449.81" x2="116.13" y2="447.07" stroke="#3a3a3a" stroke-width="1"/>
<line x1="68.16" y1="481.28" x2="76.24" y2="477.16" stroke="#3a3a3a" stroke-width="1"/>
<line x1="68.16" y1="481.28" x2="75.52" y2="486.06" stroke="#3a3a3a" stroke-width="1"/>
<circle cx="60.4" cy="470.6" r="2.95" fill="#ff8410"/>
<circle cx="64.48" cy="458.05" r="2.95" fill="#990099"/>
<circle cx="77.39" cy="455.3" r="2.95" fill="#2b7bff"/>
<text x="73.56" y="445.36" font-size="7.3">HN</text>
<text x="95.62" y="430.06" font-size="7.3">O</text>
<text x="77.24" y="477.72" font-size="7.3">Me</text>
<text x="76.52" y="491.3" font-size="7.3">Me</text>
<text x="33.22" y="518.6" font-size="9.2"><tspan font-weight="bold">22</tspan>, 71%</text>
<line x1="179.15" y1="475.58" x2="179.15" y2="488.78" stroke="#3a3a3a" stroke-width="1"/>
<line x1="179.15" y1="488.78" x2="167.71" y2="495.38" stroke="#3a3a3a" stroke-width="1"/>
<line x1="175.82" y1="487.81" x2="168.54" y2="492.01" stroke="#3a3a3a" stroke-width="1"/>
<line x1="167.71" y1="495.38" x2="156.28" y2="488.78" stroke="#3a3a3a" stroke-width="1"/>
<line x1="156.28" y1="488.78" x2="156.28" y2="475.58" stroke="#3a3a3a" stroke-width="1"/>
<line x1="158.78" y1="486.38" x2="158.78" y2="477.98" stroke="#3a3a3a" stroke-width="1"/>
<line x1="156.28" y1="475.58" x2="167.71" y2="468.98" stroke="#3a3a3a" stroke-width="1"/>
<line x1="167.71" y1="468.98" x2="179.15" y2="475.58" stroke="#3a3a3a" stroke-width="1"/>
<line x1="168.54" y1="472.34" x2="175.82" y2="476.54" stroke="#3a3a3a" stroke-width="1"/>
<line x1="179.15" y1="475.58" x2="191.7" y2="471.5" stroke="#ff4040" stroke-width="0.9"/>
<line x1="191.7" y1="471.5" x2="199.46" y2="482.18" stroke="#3a3a3a" stroke-width="1"/>
<line x1="199.46" y1="482.18" x2="191.7" y2="492.86" stroke="#3a3a3a" stroke-width="1"/>
<line x1="191.7" y1="492.86" x2="179.15" y2="488.78" stroke="#3a3a3a" stroke-width="1"/>
<line x1="193.07" y1="468.89" x2="192.12" y2="468.58" stroke="#3a3a3a" stroke-width="0.8"/>
<line x1="194.16" y1="467.16" x2="192.26" y2="466.55" stroke="#3a3a3a" stroke-width="0.8"/>
<line x1="195.25" y1="465.44" x2="192.39" y2="464.51" stroke="#3a3a3a" stroke-width="0.8"/>
<line x1="196.34" y1="463.71" x2="192.53" y2="462.47" stroke="#3a3a3a" stroke-width="0.8"/>
<line x1="197.42" y1="461.98" x2="192.67" y2="460.43" stroke="#3a3a3a" stroke-width="0.8"/>
<line x1="195.78" y1="458.95" x2="208.69" y2="456.2" stroke="#ff4040" stroke-width="0.9"/>
<line x1="208.69" y1="456.2" x2="211.46" y2="447.68" stroke="#3a3a3a" stroke-width="1"/>
<line x1="216.41" y1="442.87" x2="225.68" y2="440.9" stroke="#3a3a3a" stroke-width="1"/>
<line x1="226.92" y1="441.3" x2="229.69" y2="432.78" stroke="#3a3a3a" stroke-width="1"/>
<line x1="224.44" y1="440.5" x2="227.22" y2="431.98" stroke="#3a3a3a" stroke-width="1"/>
<line x1="225.68" y1="440.9" x2="234.51" y2="450.71" stroke="#3a3a3a" stroke-width="1"/>
<line x1="234.51" y1="450.71" x2="247.43" y2="447.97" stroke="#3a3a3a" stroke-width="1"/>
<line x1="191.7" y1="492.86" x2="194.47" y2="501.38" stroke="#3a3a3a" stroke-width="1"/>
<circle cx="191.7" cy="471.5" r="2.95" fill="#ff8410"/>
<circle cx="195.78" cy="458.95" r="2.95" fill="#990099"/>
<circle cx="208.69" cy="456.2" r="2.95" fill="#2b7bff"/>
<text x="204.86" y="446.26" font-size="7.3">HN</text>
<text x="226.92" y="430.96" font-size="7.3">O</text>
<text x="192.74" y="508.02" font-size="7.3">Me</text>
<text x="150.86" y="518.6" font-size="9.2"><tspan font-weight="bold">23</tspan>, 81%, 1.2:1 d.r.</text>
<line x1="307.85" y1="474.68" x2="307.85" y2="487.88" stroke="#3a3a3a" stroke-width="1"/>
<line x1="307.85" y1="487.88" x2="296.41" y2="494.48" stroke="#3a3a3a" stroke-width="1"/>
<line x1="304.52" y1="486.91" x2="297.24" y2="491.11" stroke="#3a3a3a" stroke-width="1"/>
<line x1="296.41" y1="494.48" x2="284.98" y2="487.88" stroke="#3a3a3a" stroke-width="1"/>
<line x1="284.98" y1="487.88" x2="284.98" y2="474.68" stroke="#3a3a3a" stroke-width="1"/>
<line x1="287.48" y1="485.48" x2="287.48" y2="477.08" stroke="#3a3a3a" stroke-width="1"/>
<line x1="284.98" y1="474.68" x2="296.41" y2="468.08" stroke="#3a3a3a" stroke-width="1"/>
<line x1="296.41" y1="468.08" x2="307.85" y2="474.68" stroke="#3a3a3a" stroke-width="1"/>
<line x1="297.24" y1="471.44" x2="304.52" y2="475.64" stroke="#3a3a3a" stroke-width="1"/>
<line x1="307.85" y1="474.68" x2="320.4" y2="470.6" stroke="#ff4040" stroke-width="0.9"/>
<line x1="320.4" y1="470.6" x2="328.16" y2="481.28" stroke="#3a3a3a" stroke-width="1"/>
<line x1="328.16" y1="481.28" x2="320.4" y2="491.96" stroke="#3a3a3a" stroke-width="1"/>
<line x1="320.4" y1="491.96" x2="307.85" y2="487.88" stroke="#3a3a3a" stroke-width="1"/>
<line x1="321.77" y1="467.99" x2="320.82" y2="467.68" stroke="#3a3a3a" stroke-width="0.8"/>
<line x1="322.86" y1="466.26" x2="320.96" y2="465.65" stroke="#3a3a3a" stroke-width="0.8"/>
<line x1="323.95" y1="464.54" x2="321.09" y2="463.61" stroke="#3a3a3a" stroke-width="0.8"/>
<line x1="325.04" y1="462.81" x2="321.23" y2="461.57" stroke="#3a3a3a" stroke-width="0.8"/>
<line x1="326.12" y1="461.08" x2="321.37" y2="459.53" stroke="#3a3a3a" stroke-width="0.8"/>
<line x1="324.48" y1="458.05" x2="337.39" y2="455.3" stroke="#ff4040" stroke-width="0.9"/>
<line x1="337.39" y1="455.3" x2="340.16" y2="446.78" stroke="#3a3a3a" stroke-width="1"/>
<line x1="345.11" y1="441.97" x2="354.38" y2="440" stroke="#3a3a3a" stroke-width="1"/>
<line x1="355.62" y1="440.4" x2="358.39" y2="431.88" stroke="#3a3a3a" stroke-width="1"/>
<line x1="353.14" y1="439.6" x2="355.92" y2="431.08" stroke="#3a3a3a" stroke-width="1"/>
<line x1="354.38" y1="440" x2="363.21" y2="449.81" stroke="#3a3a3a" stroke-width="1"/>
<line x1="363.21" y1="449.81" x2="376.13" y2="447.07" stroke="#3a3a3a" stroke-width="1"/>
<line x1="320.4" y1="491.96" x2="323.17" y2="500.48" stroke="#3a3a3a" stroke-width="1"/>
<circle cx="320.4" cy="470.6" r="2.95" fill="#ff8410"/>
<circle cx="324.48" cy="458.05" r="2.95" fill="#990099"/>
<circle cx="337.39" cy="455.3" r="2.95" fill="#2b7bff"/>
<text x="333.56" y="445.36" font-size="7.3">HN</text>
<text x="355.62" y="430.06" font-size="7.3">O</text>
<text x="322.04" y="507.12" font-size="7.3">Ph</text>
<text x="276.56" y="518.6" font-size="9.2"><tspan font-weight="bold">24</tspan>, 69%, 1.5:1 d.r.</text>
<line x1="430.37" y1="484.1" x2="430.37" y2="497.3" stroke="#3a3a3a" stroke-width="1"/>
<line x1="430.37" y1="497.3" x2="418.94" y2="503.9" stroke="#3a3a3a" stroke-width="1"/>
<line x1="427.04" y1="496.33" x2="419.77" y2="500.53" stroke="#3a3a3a" stroke-width="1"/>
<line x1="418.94" y1="503.9" x2="407.51" y2="497.3" stroke="#3a3a3a" stroke-width="1"/>
<line x1="407.51" y1="497.3" x2="407.51" y2="484.1" stroke="#3a3a3a" stroke-width="1"/>
<line x1="410.01" y1="494.9" x2="410.01" y2="486.5" stroke="#3a3a3a" stroke-width="1"/>
<line x1="407.51" y1="484.1" x2="418.94" y2="477.5" stroke="#3a3a3a" stroke-width="1"/>
<line x1="418.94" y1="477.5" x2="430.37" y2="484.1" stroke="#3a3a3a" stroke-width="1"/>
<line x1="419.77" y1="480.87" x2="427.04" y2="485.07" stroke="#3a3a3a" stroke-width="1"/>
<line x1="430.37" y1="484.1" x2="441.8" y2="477.5" stroke="#ff4040" stroke-width="0.9"/>
<line x1="441.8" y1="477.5" x2="453.23" y2="484.1" stroke="#3a3a3a" stroke-width="1"/>
<line x1="453.23" y1="484.1" x2="453.23" y2="497.3" stroke="#3a3a3a" stroke-width="1"/>
<line x1="453.23" y1="497.3" x2="441.8" y2="503.9" stroke="#3a3a3a" stroke-width="1"/>
<line x1="441.8" y1="503.9" x2="430.37" y2="497.3" stroke="#3a3a3a" stroke-width="1"/>
<line x1="441.8" y1="477.5" x2="441.8" y2="464.3" stroke="#3a3a3a" stroke-width="1"/>
<line x1="441.8" y1="464.3" x2="453.23" y2="457.7" stroke="#ff4040" stroke-width="0.9"/>
<line x1="453.23" y1="457.7" x2="453.23" y2="448.53" stroke="#3a3a3a" stroke-width="1"/>
<line x1="456.87" y1="442.4" x2="464.66" y2="437.9" stroke="#3a3a3a" stroke-width="1"/>
<line x1="465.96" y1="437.9" x2="465.96" y2="428.73" stroke="#3a3a3a" stroke-width="1"/>
<line x1="463.36" y1="437.9" x2="463.36" y2="428.73" stroke="#3a3a3a" stroke-width="1"/>
<line x1="464.66" y1="437.9" x2="476.09" y2="444.5" stroke="#3a3a3a" stroke-width="1"/>
<line x1="476.09" y1="444.5" x2="487.53" y2="437.9" stroke="#3a3a3a" stroke-width="1"/>
<circle cx="441.8" cy="477.5" r="2.95" fill="#ff8410"/>
<circle cx="441.8" cy="464.3" r="2.95" fill="#990099"/>
<circle cx="453.23" cy="457.7" r="2.95" fill="#2b7bff"/>
<text x="445.32" y="447.11" font-size="7.3">HN</text>
<text x="461.82" y="427.31" font-size="7.3">O</text>
<text x="417.52" y="518.6" font-size="9.2"><tspan font-weight="bold">25</tspan>, 51%</text>
<line x1="564.87" y1="484.9" x2="564.87" y2="498.1" stroke="#3a3a3a" stroke-width="1"/>
<line x1="564.87" y1="498.1" x2="553.44" y2="504.7" stroke="#3a3a3a" stroke-width="1"/>
<line x1="561.54" y1="497.13" x2="554.27" y2="501.33" stroke="#3a3a3a" stroke-width="1"/>
<line x1="553.44" y1="504.7" x2="542.01" y2="498.1" stroke="#3a3a3a" stroke-width="1"/>
<line x1="542.01" y1="498.1" x2="542.01" y2="484.9" stroke="#3a3a3a" stroke-width="1"/>
<line x1="544.51" y1="495.7" x2="544.51" y2="487.3" stroke="#3a3a3a" stroke-width="1"/>
<line x1="542.01" y1="484.9" x2="553.44" y2="478.3" stroke="#3a3a3a" stroke-width="1"/>
<line x1="553.44" y1="478.3" x2="564.87" y2="484.9" stroke="#3a3a3a" stroke-width="1"/>
<line x1="554.27" y1="481.67" x2="561.54" y2="485.87" stroke="#3a3a3a" stroke-width="1"/>
<line x1="564.87" y1="484.9" x2="576.3" y2="478.3" stroke="#ff4040" stroke-width="0.9"/>
<line x1="576.3" y1="478.3" x2="587.73" y2="484.9" stroke="#3a3a3a" stroke-width="1"/>
<line x1="587.73" y1="484.9" x2="587.73" y2="498.1" stroke="#3a3a3a" stroke-width="1"/>
<line x1="587.73" y1="498.1" x2="576.3" y2="504.7" stroke="#3a3a3a" stroke-width="1"/>
<line x1="576.3" y1="504.7" x2="564.87" y2="498.1" stroke="#3a3a3a" stroke-width="1"/>
<line x1="576.3" y1="478.3" x2="576.3" y2="465.1" stroke="#3a3a3a" stroke-width="1"/>
<line x1="576.3" y1="465.1" x2="587.73" y2="458.5" stroke="#ff4040" stroke-width="0.9"/>
<line x1="587.73" y1="458.5" x2="587.73" y2="449.33" stroke="#3a3a3a" stroke-width="1"/>
<line x1="591.37" y1="443.2" x2="599.16" y2="438.7" stroke="#3a3a3a" stroke-width="1"/>
<line x1="600.46" y1="438.7" x2="600.46" y2="429.53" stroke="#3a3a3a" stroke-width="1"/>
<line x1="597.86" y1="438.7" x2="597.86" y2="429.53" stroke="#3a3a3a" stroke-width="1"/>
<line x1="599.16" y1="438.7" x2="610.59" y2="445.3" stroke="#3a3a3a" stroke-width="1"/>
<line x1="610.59" y1="445.3" x2="622.03" y2="438.7" stroke="#3a3a3a" stroke-width="1"/>
<line x1="542.01" y1="498.1" x2="533.8" y2="502.84" stroke="#3a3a3a" stroke-width="1"/>
<circle cx="576.3" cy="478.3" r="2.95" fill="#ff8410"/>
<circle cx="576.3" cy="465.1" r="2.95" fill="#990099"/>
<circle cx="587.73" cy="458.5" r="2.95" fill="#2b7bff"/>
<text x="579.82" y="447.91" font-size="7.3">HN</text>
<text x="596.32" y="428.11" font-size="7.3">O</text>
<text x="528.34" y="507.31" font-size="7.3">F</text>
<text x="551.32" y="518.6" font-size="9.2"><tspan font-weight="bold">26</tspan>, 49%</text>
<line x1="699.27" y1="484.4" x2="699.27" y2="497.6" stroke="#3a3a3a" stroke-width="1"/>
<line x1="699.27" y1="497.6" x2="687.84" y2="504.2" stroke="#3a3a3a" stroke-width="1"/>
<line x1="695.94" y1="496.63" x2="688.67" y2="500.83" stroke="#3a3a3a" stroke-width="1"/>
<line x1="687.84" y1="504.2" x2="676.41" y2="497.6" stroke="#3a3a3a" stroke-width="1"/>
<line x1="676.41" y1="497.6" x2="676.41" y2="484.4" stroke="#3a3a3a" stroke-width="1"/>
<line x1="678.91" y1="495.2" x2="678.91" y2="486.8" stroke="#3a3a3a" stroke-width="1"/>
<line x1="676.41" y1="484.4" x2="687.84" y2="477.8" stroke="#3a3a3a" stroke-width="1"/>
<line x1="687.84" y1="477.8" x2="699.27" y2="484.4" stroke="#3a3a3a" stroke-width="1"/>
<line x1="688.67" y1="481.17" x2="695.94" y2="485.37" stroke="#3a3a3a" stroke-width="1"/>
<line x1="699.27" y1="484.4" x2="710.7" y2="477.8" stroke="#ff4040" stroke-width="0.9"/>
<line x1="710.7" y1="477.8" x2="722.13" y2="484.4" stroke="#3a3a3a" stroke-width="1"/>
<line x1="722.13" y1="484.4" x2="722.13" y2="497.6" stroke="#3a3a3a" stroke-width="1"/>
<line x1="722.13" y1="497.6" x2="710.7" y2="504.2" stroke="#3a3a3a" stroke-width="1"/>
<line x1="710.7" y1="504.2" x2="699.27" y2="497.6" stroke="#3a3a3a" stroke-width="1"/>
<line x1="710.7" y1="477.8" x2="710.7" y2="464.6" stroke="#3a3a3a" stroke-width="1"/>
<line x1="710.7" y1="464.6" x2="722.13" y2="458" stroke="#ff4040" stroke-width="0.9"/>
<line x1="722.13" y1="458" x2="722.13" y2="448.83" stroke="#3a3a3a" stroke-width="1"/>
<line x1="725.77" y1="442.7" x2="733.56" y2="438.2" stroke="#3a3a3a" stroke-width="1"/>
<line x1="734.86" y1="438.2" x2="734.86" y2="429.03" stroke="#3a3a3a" stroke-width="1"/>
<line x1="732.26" y1="438.2" x2="732.26" y2="429.03" stroke="#3a3a3a" stroke-width="1"/>
<line x1="733.56" y1="438.2" x2="744.99" y2="444.8" stroke="#3a3a3a" stroke-width="1"/>
<line x1="744.99" y1="444.8" x2="756.43" y2="438.2" stroke="#3a3a3a" stroke-width="1"/>
<line x1="676.41" y1="484.4" x2="668.81" y2="480.02" stroke="#3a3a3a" stroke-width="1"/>
<circle cx="710.7" cy="477.8" r="2.95" fill="#ff8410"/>
<circle cx="710.7" cy="464.6" r="2.95" fill="#990099"/>
<circle cx="722.13" cy="458" r="2.95" fill="#2b7bff"/>
<text x="714.22" y="447.41" font-size="7.3">HN</text>
<text x="730.72" y="427.61" font-size="7.3">O</text>
<text x="651.99" y="480.41" font-size="7.3">MeO</text>
<text x="691.92" y="518.6" font-size="9.2"><tspan font-weight="bold">27</tspan>, 55%</text>
<line x1="48.25" y1="592.78" x2="48.25" y2="605.98" stroke="#3a3a3a" stroke-width="1"/>
<line x1="48.25" y1="605.98" x2="36.81" y2="612.58" stroke="#3a3a3a" stroke-width="1"/>
<line x1="44.92" y1="605.01" x2="37.64" y2="609.21" stroke="#3a3a3a" stroke-width="1"/>
<line x1="36.81" y1="612.58" x2="25.38" y2="605.98" stroke="#3a3a3a" stroke-width="1"/>
<line x1="25.38" y1="605.98" x2="25.38" y2="592.78" stroke="#3a3a3a" stroke-width="1"/>
<line x1="27.88" y1="603.58" x2="27.88" y2="595.18" stroke="#3a3a3a" stroke-width="1"/>
<line x1="25.38" y1="592.78" x2="36.81" y2="586.18" stroke="#3a3a3a" stroke-width="1"/>
<line x1="36.81" y1="586.18" x2="48.25" y2="592.78" stroke="#3a3a3a" stroke-width="1"/>
<line x1="37.64" y1="589.54" x2="44.92" y2="593.74" stroke="#3a3a3a" stroke-width="1"/>
<line x1="48.25" y1="592.78" x2="60.8" y2="588.7" stroke="#ff4040" stroke-width="0.9"/>
<line x1="60.8" y1="588.7" x2="68.56" y2="599.38" stroke="#3a3a3a" stroke-width="1"/>
<line x1="68.56" y1="599.38" x2="63.73" y2="606.03" stroke="#3a3a3a" stroke-width="1"/>
<line x1="56.96" y1="608.81" x2="48.25" y2="605.98" stroke="#3a3a3a" stroke-width="1"/>
<line x1="60.8" y1="588.7" x2="64.88" y2="576.15" stroke="#3a3a3a" stroke-width="1"/>
<line x1="64.88" y1="576.15" x2="77.79" y2="573.4" stroke="#ff4040" stroke-width="0.9"/>
<line x1="77.79" y1="573.4" x2="80.56" y2="564.88" stroke="#3a3a3a" stroke-width="1"/>
<line x1="85.51" y1="560.07" x2="94.78" y2="558.1" stroke="#3a3a3a" stroke-width="1"/>
<line x1="96.02" y1="558.5" x2="98.79" y2="549.98" stroke="#3a3a3a" stroke-width="1"/>
<line x1="93.54" y1="557.7" x2="96.32" y2="549.18" stroke="#3a3a3a" stroke-width="1"/>
<line x1="94.78" y1="558.1" x2="103.61" y2="567.91" stroke="#3a3a3a" stroke-width="1"/>
<line x1="103.61" y1="567.91" x2="116.53" y2="565.17" stroke="#3a3a3a" stroke-width="1"/>
<circle cx="60.8" cy="588.7" r="2.95" fill="#ff8410"/>
<circle cx="64.88" cy="576.15" r="2.95" fill="#990099"/>
<circle cx="77.79" cy="573.4" r="2.95" fill="#2b7bff"/>
<text x="73.96" y="563.46" font-size="7.3">HN</text>
<text x="96.02" y="548.16" font-size="7.3">O</text>
<text x="57.96" y="612.67" font-size="7.3">O</text>
<text x="30.78" y="632.7" font-size="9.2"><tspan font-weight="bold">28</tspan>, 52%</text><text x="64.94" y="629.4" font-size="6.9" style="stroke:none">[a]</text>
<line x1="176.65" y1="588.98" x2="176.65" y2="602.18" stroke="#3a3a3a" stroke-width="1"/>
<line x1="176.65" y1="602.18" x2="165.21" y2="608.78" stroke="#3a3a3a" stroke-width="1"/>
<line x1="173.32" y1="601.21" x2="166.04" y2="605.41" stroke="#3a3a3a" stroke-width="1"/>
<line x1="165.21" y1="608.78" x2="153.78" y2="602.18" stroke="#3a3a3a" stroke-width="1"/>
<line x1="153.78" y1="602.18" x2="153.78" y2="588.98" stroke="#3a3a3a" stroke-width="1"/>
<line x1="156.28" y1="599.78" x2="156.28" y2="591.38" stroke="#3a3a3a" stroke-width="1"/>
<line x1="153.78" y1="588.98" x2="165.21" y2="582.38" stroke="#3a3a3a" stroke-width="1"/>
<line x1="165.21" y1="582.38" x2="176.65" y2="588.98" stroke="#3a3a3a" stroke-width="1"/>
<line x1="166.04" y1="585.74" x2="173.32" y2="589.94" stroke="#3a3a3a" stroke-width="1"/>
<line x1="176.65" y1="588.98" x2="189.2" y2="584.9" stroke="#ff4040" stroke-width="0.9"/>
<line x1="189.2" y1="584.9" x2="196.96" y2="595.58" stroke="#3a3a3a" stroke-width="1"/>
<line x1="196.96" y1="595.58" x2="192.13" y2="602.23" stroke="#3a3a3a" stroke-width="1"/>
<line x1="185.56" y1="605.08" x2="176.65" y2="602.18" stroke="#3a3a3a" stroke-width="1"/>
<line x1="189.2" y1="584.9" x2="193.28" y2="572.35" stroke="#3a3a3a" stroke-width="1"/>
<line x1="193.28" y1="572.35" x2="206.19" y2="569.6" stroke="#ff4040" stroke-width="0.9"/>
<line x1="206.19" y1="569.6" x2="208.96" y2="561.08" stroke="#3a3a3a" stroke-width="1"/>
<line x1="213.91" y1="556.27" x2="223.18" y2="554.3" stroke="#3a3a3a" stroke-width="1"/>
<line x1="224.42" y1="554.7" x2="227.19" y2="546.18" stroke="#3a3a3a" stroke-width="1"/>
<line x1="221.94" y1="553.9" x2="224.72" y2="545.38" stroke="#3a3a3a" stroke-width="1"/>
<line x1="223.18" y1="554.3" x2="232.01" y2="564.11" stroke="#3a3a3a" stroke-width="1"/>
<line x1="232.01" y1="564.11" x2="244.93" y2="561.37" stroke="#3a3a3a" stroke-width="1"/>
<circle cx="189.2" cy="584.9" r="2.95" fill="#ff8410"/>
<circle cx="193.28" cy="572.35" r="2.95" fill="#990099"/>
<circle cx="206.19" cy="569.6" r="2.95" fill="#2b7bff"/>
<text x="202.36" y="559.66" font-size="7.3">HN</text>
<text x="224.42" y="544.36" font-size="7.3">O</text>
<text x="186.56" y="608.87" font-size="7.3">N</text>
<text x="187.3" y="615.26" font-size="7.2">Ac</text>
<text x="162.78" y="632.7" font-size="9.2"><tspan font-weight="bold">29</tspan>, 77%</text><text x="196.94" y="629.4" font-size="6.9" style="stroke:none">[b]</text>
<line x1="293.97" y1="596.6" x2="293.97" y2="609.8" stroke="#3a3a3a" stroke-width="1"/>
<line x1="293.97" y1="609.8" x2="282.54" y2="616.4" stroke="#3a3a3a" stroke-width="1"/>
<line x1="290.64" y1="608.83" x2="283.37" y2="613.03" stroke="#3a3a3a" stroke-width="1"/>
<line x1="282.54" y1="616.4" x2="271.11" y2="609.8" stroke="#3a3a3a" stroke-width="1"/>
<line x1="271.11" y1="609.8" x2="271.11" y2="596.6" stroke="#3a3a3a" stroke-width="1"/>
<line x1="273.61" y1="607.4" x2="273.61" y2="599" stroke="#3a3a3a" stroke-width="1"/>
<line x1="271.11" y1="596.6" x2="282.54" y2="590" stroke="#3a3a3a" stroke-width="1"/>
<line x1="282.54" y1="590" x2="293.97" y2="596.6" stroke="#3a3a3a" stroke-width="1"/>
<line x1="283.37" y1="593.37" x2="290.64" y2="597.57" stroke="#3a3a3a" stroke-width="1"/>
<line x1="293.97" y1="596.6" x2="305.4" y2="590" stroke="#ff4040" stroke-width="0.9"/>
<line x1="305.4" y1="590" x2="316.83" y2="596.6" stroke="#3a3a3a" stroke-width="1"/>
<line x1="316.83" y1="596.6" x2="316.83" y2="609.8" stroke="#3a3a3a" stroke-width="1"/>
<line x1="316.83" y1="609.8" x2="309.24" y2="614.18" stroke="#3a3a3a" stroke-width="1"/>
<line x1="301.56" y1="614.18" x2="293.97" y2="609.8" stroke="#3a3a3a" stroke-width="1"/>
<line x1="305.4" y1="590" x2="305.4" y2="576.8" stroke="#3a3a3a" stroke-width="1"/>
<line x1="305.4" y1="576.8" x2="316.83" y2="570.2" stroke="#ff4040" stroke-width="0.9"/>
<line x1="316.83" y1="570.2" x2="316.83" y2="561.03" stroke="#3a3a3a" stroke-width="1"/>
<line x1="320.47" y1="554.9" x2="328.26" y2="550.4" stroke="#3a3a3a" stroke-width="1"/>
<line x1="329.56" y1="550.4" x2="329.56" y2="541.23" stroke="#3a3a3a" stroke-width="1"/>
<line x1="326.96" y1="550.4" x2="326.96" y2="541.23" stroke="#3a3a3a" stroke-width="1"/>
<line x1="328.26" y1="550.4" x2="339.69" y2="557" stroke="#3a3a3a" stroke-width="1"/>
<line x1="339.69" y1="557" x2="351.13" y2="550.4" stroke="#3a3a3a" stroke-width="1"/>
<circle cx="305.4" cy="590" r="2.95" fill="#ff8410"/>
<circle cx="305.4" cy="576.8" r="2.95" fill="#990099"/>
<circle cx="316.83" cy="570.2" r="2.95" fill="#2b7bff"/>
<text x="308.92" y="559.61" font-size="7.3">HN</text>
<text x="325.42" y="539.81" font-size="7.3">O</text>
<text x="302.56" y="619.01" font-size="7.3">O</text>
<text x="276.58" y="632.7" font-size="9.2"><tspan font-weight="bold">30</tspan>, 45%</text><text x="310.74" y="629.4" font-size="6.9" style="stroke:none">[a]</text>
<line x1="424" y1="598.5" x2="424" y2="611.7" stroke="#3a3a3a" stroke-width="1"/>
<line x1="424" y1="611.7" x2="412.57" y2="618.3" stroke="#3a3a3a" stroke-width="1"/>
<line x1="420.67" y1="610.73" x2="413.4" y2="614.93" stroke="#3a3a3a" stroke-width="1"/>
<line x1="412.57" y1="618.3" x2="401.14" y2="611.7" stroke="#3a3a3a" stroke-width="1"/>
<line x1="401.14" y1="611.7" x2="401.14" y2="598.5" stroke="#3a3a3a" stroke-width="1"/>
<line x1="403.64" y1="609.3" x2="403.64" y2="600.9" stroke="#3a3a3a" stroke-width="1"/>
<line x1="401.14" y1="598.5" x2="412.57" y2="591.9" stroke="#3a3a3a" stroke-width="1"/>
<line x1="412.57" y1="591.9" x2="424" y2="598.5" stroke="#3a3a3a" stroke-width="1"/>
<line x1="413.4" y1="595.27" x2="420.67" y2="599.47" stroke="#3a3a3a" stroke-width="1"/>
<line x1="424" y1="598.5" x2="434.6" y2="590.6" stroke="#ff4040" stroke-width="0.95"/>
<line x1="434.6" y1="590.6" x2="447" y2="593.5" stroke="#3a3a3a" stroke-width="1"/>
<line x1="447" y1="593.5" x2="453.1" y2="605.6" stroke="#3a3a3a" stroke-width="1"/>
<line x1="453.1" y1="605.6" x2="447" y2="617.3" stroke="#3a3a3a" stroke-width="1"/>
<line x1="447" y1="617.3" x2="438.44" y2="619.72" stroke="#3a3a3a" stroke-width="1"/>
<line x1="430.76" y1="617.5" x2="424" y2="611.7" stroke="#3a3a3a" stroke-width="1"/>
<line x1="434.6" y1="590.6" x2="431.18" y2="577.85" stroke="#3a3a3a" stroke-width="1"/>
<line x1="431.18" y1="577.85" x2="440.52" y2="568.52" stroke="#ff4040" stroke-width="0.9"/>
<line x1="440.52" y1="568.52" x2="438.18" y2="559.79" stroke="#3a3a3a" stroke-width="1"/>
<line x1="440.74" y1="552.13" x2="446.43" y2="546.43" stroke="#3a3a3a" stroke-width="1"/>
<line x1="447.69" y1="546.1" x2="445.35" y2="537.37" stroke="#3a3a3a" stroke-width="1"/>
<line x1="445.18" y1="546.77" x2="442.84" y2="538.05" stroke="#3a3a3a" stroke-width="1"/>
<line x1="446.43" y1="546.43" x2="459.19" y2="549.85" stroke="#3a3a3a" stroke-width="1"/>
<line x1="459.19" y1="549.85" x2="468.52" y2="540.51" stroke="#3a3a3a" stroke-width="1"/>
<circle cx="434.6" cy="590.6" r="2.95" fill="#ff8410"/>
<circle cx="431.18" cy="577.85" r="2.95" fill="#990099"/>
<circle cx="440.52" cy="568.52" r="2.95" fill="#2b7bff"/>
<text x="431.76" y="623.41" font-size="7.3">O</text>
<text x="429.19" y="558.38" font-size="7.3">HN</text>
<text x="440.18" y="536.3" font-size="7.3">O</text>
<text x="407.28" y="632.7" font-size="9.2"><tspan font-weight="bold">31</tspan>, 25%</text><text x="441.44" y="629.4" font-size="6.9" style="stroke:none">[a]</text>
<line x1="548.45" y1="592.88" x2="548.45" y2="606.08" stroke="#3a3a3a" stroke-width="1"/>
<line x1="548.45" y1="606.08" x2="537.01" y2="612.68" stroke="#3a3a3a" stroke-width="1"/>
<line x1="545.12" y1="605.11" x2="537.84" y2="609.31" stroke="#3a3a3a" stroke-width="1"/>
<line x1="537.01" y1="612.68" x2="525.58" y2="606.08" stroke="#3a3a3a" stroke-width="1"/>
<line x1="525.58" y1="606.08" x2="525.58" y2="592.88" stroke="#3a3a3a" stroke-width="1"/>
<line x1="528.08" y1="603.68" x2="528.08" y2="595.28" stroke="#3a3a3a" stroke-width="1"/>
<line x1="525.58" y1="592.88" x2="537.01" y2="586.28" stroke="#3a3a3a" stroke-width="1"/>
<line x1="537.01" y1="586.28" x2="548.45" y2="592.88" stroke="#3a3a3a" stroke-width="1"/>
<line x1="537.84" y1="589.64" x2="545.12" y2="593.84" stroke="#3a3a3a" stroke-width="1"/>
<line x1="548.45" y1="592.88" x2="561" y2="588.8" stroke="#ff4040" stroke-width="0.9"/>
<line x1="561" y1="588.8" x2="568.76" y2="599.48" stroke="#3a3a3a" stroke-width="1"/>
<line x1="568.76" y1="599.48" x2="561" y2="610.16" stroke="#3a3a3a" stroke-width="1"/>
<line x1="561" y1="610.16" x2="548.45" y2="606.08" stroke="#3a3a3a" stroke-width="1"/>
<line x1="561" y1="588.8" x2="565.08" y2="576.25" stroke="#3a3a3a" stroke-width="1"/>
<line x1="565.08" y1="576.25" x2="577.99" y2="573.5" stroke="#ff4040" stroke-width="0.9"/>
<line x1="577.99" y1="573.5" x2="580.76" y2="564.98" stroke="#3a3a3a" stroke-width="1"/>
<line x1="585.71" y1="560.17" x2="594.98" y2="558.2" stroke="#3a3a3a" stroke-width="1"/>
<line x1="596.22" y1="558.6" x2="598.99" y2="550.08" stroke="#3a3a3a" stroke-width="1"/>
<line x1="593.74" y1="557.8" x2="596.52" y2="549.28" stroke="#3a3a3a" stroke-width="1"/>
<line x1="594.98" y1="558.2" x2="603.81" y2="568.01" stroke="#3a3a3a" stroke-width="1"/>
<line x1="603.81" y1="568.01" x2="616.73" y2="565.27" stroke="#3a3a3a" stroke-width="1"/>
<line x1="561" y1="588.8" x2="551.04" y2="580.14" stroke="#3a3a3a" stroke-width="1"/>
<circle cx="561" cy="588.8" r="2.95" fill="#ff8410"/>
<circle cx="565.08" cy="576.25" r="2.95" fill="#990099"/>
<circle cx="577.99" cy="573.5" r="2.95" fill="#2b7bff"/>
<text x="574.16" y="563.56" font-size="7.3">HN</text>
<text x="596.22" y="548.26" font-size="7.3">O</text>
<text x="534.62" y="632.7" font-size="9.2"><tspan font-weight="bold">32</tspan>, 50%</text>
<line x1="678.85" y1="588.98" x2="678.85" y2="602.18" stroke="#3a3a3a" stroke-width="1"/>
<line x1="678.85" y1="602.18" x2="667.41" y2="608.78" stroke="#3a3a3a" stroke-width="1"/>
<line x1="675.52" y1="601.21" x2="668.24" y2="605.41" stroke="#3a3a3a" stroke-width="1"/>
<line x1="667.41" y1="608.78" x2="655.98" y2="602.18" stroke="#3a3a3a" stroke-width="1"/>
<line x1="655.98" y1="602.18" x2="655.98" y2="588.98" stroke="#3a3a3a" stroke-width="1"/>
<line x1="658.48" y1="599.78" x2="658.48" y2="591.38" stroke="#3a3a3a" stroke-width="1"/>
<line x1="655.98" y1="588.98" x2="667.41" y2="582.38" stroke="#3a3a3a" stroke-width="1"/>
<line x1="667.41" y1="582.38" x2="678.85" y2="588.98" stroke="#3a3a3a" stroke-width="1"/>
<line x1="668.24" y1="585.74" x2="675.52" y2="589.94" stroke="#3a3a3a" stroke-width="1"/>
<line x1="678.85" y1="588.98" x2="691.4" y2="584.9" stroke="#ff4040" stroke-width="0.9"/>
<line x1="691.4" y1="584.9" x2="699.16" y2="595.58" stroke="#3a3a3a" stroke-width="1"/>
<line x1="699.16" y1="595.58" x2="694.33" y2="602.23" stroke="#3a3a3a" stroke-width="1"/>
<line x1="687.76" y1="605.08" x2="678.85" y2="602.18" stroke="#3a3a3a" stroke-width="1"/>
<line x1="691.4" y1="584.9" x2="695.48" y2="572.35" stroke="#3a3a3a" stroke-width="1"/>
<line x1="695.48" y1="572.35" x2="708.39" y2="569.6" stroke="#ff4040" stroke-width="0.9"/>
<line x1="708.39" y1="569.6" x2="711.16" y2="561.08" stroke="#3a3a3a" stroke-width="1"/>
<line x1="716.11" y1="556.27" x2="725.38" y2="554.3" stroke="#3a3a3a" stroke-width="1"/>
<line x1="726.62" y1="554.7" x2="729.39" y2="546.18" stroke="#3a3a3a" stroke-width="1"/>
<line x1="724.14" y1="553.9" x2="726.92" y2="545.38" stroke="#3a3a3a" stroke-width="1"/>
<line x1="725.38" y1="554.3" x2="734.21" y2="564.11" stroke="#3a3a3a" stroke-width="1"/>
<line x1="734.21" y1="564.11" x2="747.13" y2="561.37" stroke="#3a3a3a" stroke-width="1"/>
<line x1="691.4" y1="584.9" x2="681.44" y2="576.24" stroke="#3a3a3a" stroke-width="1"/>
<circle cx="691.4" cy="584.9" r="2.95" fill="#ff8410"/>
<circle cx="695.48" cy="572.35" r="2.95" fill="#990099"/>
<circle cx="708.39" cy="569.6" r="2.95" fill="#2b7bff"/>
<text x="704.56" y="559.66" font-size="7.3">HN</text>
<text x="726.62" y="544.36" font-size="7.3">O</text>
<text x="688.76" y="608.87" font-size="7.3">N</text>
<text x="689.5" y="615.26" font-size="7.2">Ac</text>
<text x="662.28" y="632.7" font-size="9.2"><tspan font-weight="bold">33</tspan>, 71%</text><text x="696.44" y="629.4" font-size="6.9" style="stroke:none">[b]</text>
<line x1="192.6" y1="45.6" x2="192.6" y2="58.8" stroke="#3a3a3a" stroke-width="1"/>
<line x1="192.6" y1="58.8" x2="181.17" y2="65.4" stroke="#3a3a3a" stroke-width="1"/>
<line x1="189.27" y1="57.83" x2="182" y2="62.03" stroke="#3a3a3a" stroke-width="1"/>
<line x1="181.17" y1="65.4" x2="169.74" y2="58.8" stroke="#3a3a3a" stroke-width="1"/>
<line x1="169.74" y1="58.8" x2="169.74" y2="45.6" stroke="#3a3a3a" stroke-width="1"/>
<line x1="172.24" y1="56.4" x2="172.24" y2="48" stroke="#3a3a3a" stroke-width="1"/>
<line x1="169.74" y1="45.6" x2="181.17" y2="39" stroke="#3a3a3a" stroke-width="1"/>
<line x1="181.17" y1="39" x2="192.6" y2="45.6" stroke="#3a3a3a" stroke-width="1"/>
<line x1="182" y1="42.37" x2="189.27" y2="46.57" stroke="#3a3a3a" stroke-width="1"/>
<line x1="192.6" y1="45.6" x2="200.36" y2="40.75" stroke="#3a3a3a" stroke-width="1"/>
<line x1="192.6" y1="58.8" x2="204.03" y2="65.4" stroke="#3a3a3a" stroke-width="1"/>
<line x1="204.03" y1="65.4" x2="215.46" y2="58.8" stroke="#3a3a3a" stroke-width="1"/>
<line x1="215.46" y1="58.8" x2="215.6" y2="46.5" stroke="#3a3a3a" stroke-width="1"/>
<line x1="216.23" y1="47.64" x2="227.93" y2="41.14" stroke="#3a3a3a" stroke-width="1"/>
<line x1="214.97" y1="45.36" x2="226.67" y2="38.86" stroke="#3a3a3a" stroke-width="1"/>
<line x1="164.67" y1="52.2" x2="173.5" y2="52.2" stroke="#3a3a3a" stroke-width="1"/>
<circle cx="215.6" cy="46.5" r="2.95" fill="#ff8410"/>
<circle cx="227.3" cy="40" r="2.95" fill="#990099"/>
<text x="201.36" y="41.22" font-size="7.3">Br</text>
<text x="157.53" y="55.24" font-size="8.5">R</text>
<text x="199.7" y="66.71" font-size="7.8" text-anchor="middle" style="stroke-width:0.05px">(</text>
<text x="208" y="66.71" font-size="7.8" text-anchor="middle" style="stroke-width:0.05px">)</text>
<text x="209.6" y="71.7" font-size="8.5">n</text>
<text x="180.7" y="37.4" font-size="4.9" style="fill:#3b76ff;stroke:#3b76ff;stroke-width:0.22px" text-anchor="middle">6</text>
<text x="192" y="43.4" font-size="4.9" style="fill:#3b76ff;stroke:#3b76ff;stroke-width:0.22px" text-anchor="middle">1</text>
<text x="165.7" y="47.1" font-size="4.9" style="fill:#3b76ff;stroke:#3b76ff;stroke-width:0.22px" text-anchor="middle">5</text>
<text x="165.7" y="61.5" font-size="4.9" style="fill:#3b76ff;stroke:#3b76ff;stroke-width:0.22px" text-anchor="middle">4</text>
<text x="180.6" y="72" font-size="4.9" style="fill:#3b76ff;stroke:#3b76ff;stroke-width:0.22px" text-anchor="middle">3</text>
<text x="191.8" y="66" font-size="4.9" style="fill:#3b76ff;stroke:#3b76ff;stroke-width:0.22px" text-anchor="middle">2</text>
<text x="240.5" y="53.6" font-size="8" text-anchor="middle">+</text>
<line x1="278.4" y1="55.1" x2="286.2" y2="50.6" stroke="#3a3a3a" stroke-width="1"/>
<line x1="286.2" y1="50.6" x2="294" y2="55.1" stroke="#3a3a3a" stroke-width="1"/>
<line x1="301.27" y1="55.1" x2="309.06" y2="50.6" stroke="#3a3a3a" stroke-width="1"/>
<line x1="310.36" y1="50.6" x2="310.36" y2="41.43" stroke="#3a3a3a" stroke-width="1"/>
<line x1="307.76" y1="50.6" x2="307.76" y2="41.43" stroke="#3a3a3a" stroke-width="1"/>
<line x1="309.06" y1="50.6" x2="320.49" y2="57.2" stroke="#3a3a3a" stroke-width="1"/>
<line x1="320.49" y1="57.2" x2="331.93" y2="50.6" stroke="#3a3a3a" stroke-width="1"/>
<circle cx="286.2" cy="50.6" r="2.95" fill="#2b7bff"/>
<text x="258.18" y="59.81" font-size="7.3">HO</text>
<text x="269.13" y="61.71" font-size="5.4">2</text>
<text x="272.13" y="59.81" font-size="7.3">C</text>
<text x="295" y="59.81" font-size="7.3">N</text>
<text x="306.22" y="40.01" font-size="7.3">O</text>
<text x="297.63" y="66.4" font-size="7.3" text-anchor="middle">H</text>
<text x="298.4" y="80.5" font-size="9" font-weight="bold" text-anchor="middle">2</text>
<line x1="546.05" y1="56.48" x2="546.05" y2="69.68" stroke="#3a3a3a" stroke-width="1"/>
<line x1="546.05" y1="69.68" x2="534.61" y2="76.28" stroke="#3a3a3a" stroke-width="1"/>
<line x1="542.72" y1="68.71" x2="535.44" y2="72.91" stroke="#3a3a3a" stroke-width="1"/>
<line x1="534.61" y1="76.28" x2="523.18" y2="69.68" stroke="#3a3a3a" stroke-width="1"/>
<line x1="523.18" y1="69.68" x2="523.18" y2="56.48" stroke="#3a3a3a" stroke-width="1"/>
<line x1="525.68" y1="67.28" x2="525.68" y2="58.88" stroke="#3a3a3a" stroke-width="1"/>
<line x1="523.18" y1="56.48" x2="534.61" y2="49.88" stroke="#3a3a3a" stroke-width="1"/>
<line x1="534.61" y1="49.88" x2="546.05" y2="56.48" stroke="#3a3a3a" stroke-width="1"/>
<line x1="535.44" y1="53.24" x2="542.72" y2="57.44" stroke="#3a3a3a" stroke-width="1"/>
<line x1="546.05" y1="56.48" x2="558.6" y2="52.4" stroke="#ff4040" stroke-width="0.9"/>
<line x1="558.6" y1="52.4" x2="566.36" y2="63.08" stroke="#3a3a3a" stroke-width="1"/>
<line x1="566.36" y1="63.08" x2="558.6" y2="73.76" stroke="#3a3a3a" stroke-width="1"/>
<line x1="558.6" y1="73.76" x2="546.05" y2="69.68" stroke="#3a3a3a" stroke-width="1"/>
<line x1="558.6" y1="52.4" x2="562.68" y2="39.85" stroke="#3a3a3a" stroke-width="1"/>
<line x1="562.68" y1="39.85" x2="575.59" y2="37.1" stroke="#ff4040" stroke-width="0.9"/>
<line x1="575.59" y1="37.1" x2="578.36" y2="28.58" stroke="#3a3a3a" stroke-width="1"/>
<line x1="583.31" y1="23.77" x2="592.58" y2="21.8" stroke="#3a3a3a" stroke-width="1"/>
<line x1="593.82" y1="22.2" x2="596.59" y2="13.68" stroke="#3a3a3a" stroke-width="1"/>
<line x1="591.34" y1="21.4" x2="594.12" y2="12.88" stroke="#3a3a3a" stroke-width="1"/>
<line x1="592.58" y1="21.8" x2="601.41" y2="31.61" stroke="#3a3a3a" stroke-width="1"/>
<line x1="601.41" y1="31.61" x2="614.33" y2="28.87" stroke="#3a3a3a" stroke-width="1"/>
<line x1="517.67" y1="63.2" x2="526.6" y2="63.2" stroke="#3a3a3a" stroke-width="1"/>
<circle cx="558.6" cy="52.4" r="2.95" fill="#ff8410"/>
<circle cx="562.68" cy="39.85" r="2.95" fill="#990099"/>
<circle cx="575.59" cy="37.1" r="2.95" fill="#2b7bff"/>
<text x="571.76" y="27.16" font-size="7.3">HN</text>
<text x="593.82" y="11.86" font-size="7.3">O</text>
<text x="510.53" y="66.24" font-size="8.5">R</text>
<text x="554" y="76.01" font-size="7.8" text-anchor="middle" style="stroke-width:0.05px">(</text>
<text x="561.6" y="75.41" font-size="7.8" text-anchor="middle" style="stroke-width:0.05px">)</text>
<text x="563.6" y="79.6" font-size="8.5">n</text>
<text x="342.69" y="21.6" font-size="9.2">Ir[dF(CF</text><text x="376.93" y="24.3" font-size="6.62">3</text><text x="380.62" y="21.6" font-size="9.2">)ppy]</text><text x="401.07" y="24.3" font-size="6.62">2</text><text x="404.75" y="21.6" font-size="9.2">(dtbbpy)PF</text><text x="450.26" y="24.3" font-size="6.62">6</text><text x="453.95" y="21.6" font-size="9.2"> (2 mol%)</text>
<text x="368.1" y="33.6" font-size="9.2">Ni(dtbbpy)Br</text><text x="419.74" y="36.3" font-size="6.62">2</text><text x="423.42" y="33.6" font-size="9.2"> (20 mol%)</text>
<text x="345.9" y="45.7" font-size="9.2">TBAB (25 mol%), Cs</text><text x="430.76" y="48.4" font-size="6.62">2</text><text x="434.44" y="45.7" font-size="9.2">CO</text><text x="448.24" y="48.4" font-size="6.62">3</text><text x="451.93" y="45.7" font-size="9.2"> (1.65 eq)</text>
<text x="343.6" y="65.6" font-size="9.2">MeCN:DMA (9:1, 0.1 M), 48 h, 60 </text><text x="482.67" y="62.2" font-size="6.62">o</text><text x="486.36" y="65.6" font-size="9.2">C</text>
<text x="377.18" y="77.7" font-size="9.2">Blue LEDs (455 nm)</text>
<line x1="343.4" y1="51.6" x2="493" y2="51.6" stroke="#3a3a3a" stroke-width="0.95"/>
<polygon points="499,51.6 490.5,49.3 492,51.6 490.5,53.9" fill="#111"/>
<rect x="12.3" y="91.35" width="746.4" height="2.1" fill="#000"/>
</svg>
</body></html>
